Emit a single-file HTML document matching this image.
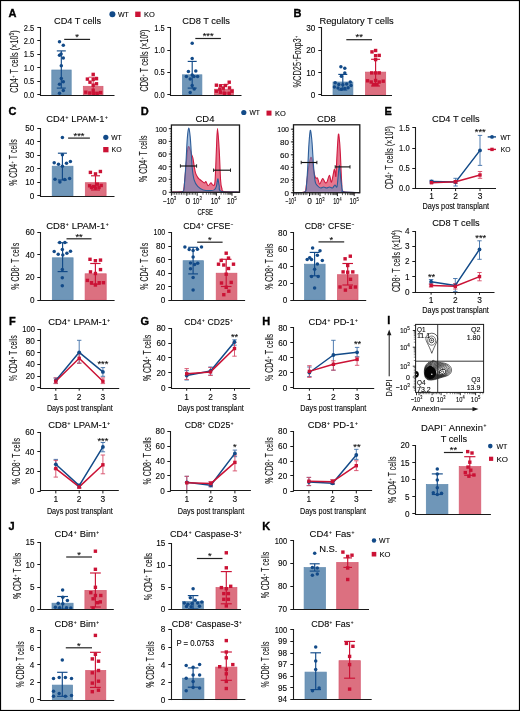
<!DOCTYPE html>
<html><head><meta charset="utf-8"><style>
html,body{margin:0;padding:0;background:#fff;}
body{width:520px;height:711px;overflow:hidden;position:relative;font-family:"Liberation Sans", sans-serif;}
svg{position:absolute;left:0;top:0;display:block;will-change:transform;}
text{stroke:#1a1a1a;stroke-width:0.12px;}
</style></head><body>
<svg width="520" height="711" viewBox="0 0 520 711" font-family='"Liberation Sans", sans-serif'><rect x="0.50" y="0.50" width="519.00" height="710.00" fill="none" stroke="#000" stroke-width="1.2" />
<text x="8.60" y="16.60" font-size="11.00" font-weight="bold" fill="#000" style="stroke:#000;stroke-width:0.35px">A</text>
<text x="77.60" y="24.40" font-size="9.90" text-anchor="middle" textLength="47.20" lengthAdjust="spacingAndGlyphs" >CD4 T cells</text>
<line x1="40.50" y1="27.00" x2="40.50" y2="95.40" stroke="#1a1a1a" stroke-width="1.1" />
<line x1="37.30" y1="27.50" x2="40.50" y2="27.50" stroke="#1a1a1a" stroke-width="1.0" />
<text x="34.30" y="30.81" font-size="8.20" text-anchor="end" textLength="10.50" lengthAdjust="spacingAndGlyphs" >2.5</text>
<line x1="37.30" y1="40.50" x2="40.50" y2="40.50" stroke="#1a1a1a" stroke-width="1.0" />
<text x="34.30" y="43.71" font-size="8.20" text-anchor="end" textLength="10.50" lengthAdjust="spacingAndGlyphs" >2.0</text>
<line x1="37.30" y1="54.50" x2="40.50" y2="54.50" stroke="#1a1a1a" stroke-width="1.0" />
<text x="34.30" y="56.91" font-size="8.20" text-anchor="end" textLength="10.50" lengthAdjust="spacingAndGlyphs" >1.5</text>
<line x1="37.30" y1="67.50" x2="40.50" y2="67.50" stroke="#1a1a1a" stroke-width="1.0" />
<text x="34.30" y="70.66" font-size="8.20" text-anchor="end" textLength="10.50" lengthAdjust="spacingAndGlyphs" >1.0</text>
<line x1="37.30" y1="81.50" x2="40.50" y2="81.50" stroke="#1a1a1a" stroke-width="1.0" />
<text x="34.30" y="84.11" font-size="8.20" text-anchor="end" textLength="10.50" lengthAdjust="spacingAndGlyphs" >0.5</text>
<line x1="37.30" y1="94.50" x2="40.50" y2="94.50" stroke="#1a1a1a" stroke-width="1.0" />
<text x="34.30" y="97.81" font-size="8.20" text-anchor="end" textLength="10.50" lengthAdjust="spacingAndGlyphs" >0.0</text>
<rect x="51.80" y="70.00" width="19.40" height="25.00" fill="#6f96b8" stroke="#5f8ab0" stroke-width="0.7" />
<rect x="83.30" y="86.30" width="19.70" height="8.70" fill="#dc7080" stroke="#d65a70" stroke-width="0.7" />
<line x1="61.30" y1="50.90" x2="61.30" y2="88.10" stroke="#124a88" stroke-width="1.15" />
<line x1="56.80" y1="50.90" x2="65.80" y2="50.90" stroke="#124a88" stroke-width="1.15" />
<line x1="56.80" y1="88.10" x2="65.80" y2="88.10" stroke="#124a88" stroke-width="1.15" />
<line x1="93.20" y1="77.20" x2="93.20" y2="93.00" stroke="#cb1235" stroke-width="0.8" />
<line x1="88.70" y1="77.20" x2="97.70" y2="77.20" stroke="#cb1235" stroke-width="0.8" />
<line x1="88.70" y1="93.00" x2="97.70" y2="93.00" stroke="#cb1235" stroke-width="0.8" />
<circle cx="59.50" cy="41.80" r="1.75" fill="#124a88"/>
<circle cx="63.30" cy="45.20" r="1.75" fill="#124a88"/>
<circle cx="59.50" cy="55.30" r="1.75" fill="#124a88"/>
<circle cx="61.10" cy="54.00" r="1.75" fill="#124a88"/>
<circle cx="63.30" cy="57.90" r="1.75" fill="#124a88"/>
<circle cx="61.30" cy="65.70" r="1.75" fill="#124a88"/>
<circle cx="61.30" cy="78.50" r="1.75" fill="#124a88"/>
<circle cx="63.30" cy="81.80" r="1.75" fill="#124a88"/>
<circle cx="59.50" cy="84.20" r="1.75" fill="#124a88"/>
<circle cx="63.30" cy="90.60" r="1.75" fill="#124a88"/>
<circle cx="59.50" cy="93.30" r="1.75" fill="#124a88"/>
<rect x="91.50" y="72.70" width="3.40" height="3.40" fill="#cb1235" stroke="none" stroke-width="0.8" />
<rect x="85.70" y="77.40" width="3.40" height="3.40" fill="#cb1235" stroke="none" stroke-width="0.8" />
<rect x="94.80" y="77.00" width="3.40" height="3.40" fill="#cb1235" stroke="none" stroke-width="0.8" />
<rect x="91.50" y="77.80" width="3.40" height="3.40" fill="#cb1235" stroke="none" stroke-width="0.8" />
<rect x="88.30" y="80.50" width="3.40" height="3.40" fill="#cb1235" stroke="none" stroke-width="0.8" />
<rect x="94.80" y="82.10" width="3.40" height="3.40" fill="#cb1235" stroke="none" stroke-width="0.8" />
<rect x="91.50" y="83.50" width="3.40" height="3.40" fill="#cb1235" stroke="none" stroke-width="0.8" />
<rect x="91.50" y="88.50" width="3.40" height="3.40" fill="#cb1235" stroke="none" stroke-width="0.8" />
<rect x="84.10" y="90.50" width="3.40" height="3.40" fill="#cb1235" stroke="none" stroke-width="0.8" />
<rect x="88.10" y="91.30" width="3.40" height="3.40" fill="#cb1235" stroke="none" stroke-width="0.8" />
<rect x="92.10" y="91.60" width="3.40" height="3.40" fill="#cb1235" stroke="none" stroke-width="0.8" />
<rect x="98.90" y="90.90" width="3.40" height="3.40" fill="#cb1235" stroke="none" stroke-width="0.8" />
<rect x="95.50" y="91.60" width="3.40" height="3.40" fill="#cb1235" stroke="none" stroke-width="0.8" />
<line x1="64.20" y1="39.40" x2="90.10" y2="39.40" stroke="#222" stroke-width="1.2" />
<text x="77.15" y="40.10" font-size="9.30" text-anchor="middle" >*</text>
<text x="17.65" y="61.60" font-size="10.00" text-anchor="middle" textLength="62.50" lengthAdjust="spacingAndGlyphs" transform="rotate(-90 17.65 61.60)" fill="#1a1a1a">CD4<tspan dx="0.50" dy="-3.10" font-size="5.20">+</tspan><tspan dx="0.50" dy="3.10"> T cells (×10<tspan dx="0.00" dy="-3.80" font-size="6.80">5</tspan><tspan dx="0.00" dy="3.80">)</tspan></tspan></text>
<circle cx="112.40" cy="14.25" r="3.00" fill="#124a88"/>
<text x="117.90" y="17.02" font-size="7.70" textLength="10.90" lengthAdjust="spacingAndGlyphs" >WT</text>
<rect x="135.20" y="11.60" width="5.40" height="5.40" fill="#cb1235" stroke="none" stroke-width="0.8" />
<text x="143.90" y="17.07" font-size="7.70" textLength="10.80" lengthAdjust="spacingAndGlyphs" >KO</text>
<text x="206.10" y="23.90" font-size="9.90" text-anchor="middle" textLength="47.80" lengthAdjust="spacingAndGlyphs" >CD8 T cells</text>
<line x1="170.50" y1="27.00" x2="170.50" y2="95.10" stroke="#1a1a1a" stroke-width="1.1" />
<line x1="167.30" y1="27.50" x2="170.50" y2="27.50" stroke="#1a1a1a" stroke-width="1.0" />
<text x="164.70" y="30.81" font-size="8.20" text-anchor="end" textLength="10.50" lengthAdjust="spacingAndGlyphs" >1.5</text>
<line x1="167.30" y1="50.50" x2="170.50" y2="50.50" stroke="#1a1a1a" stroke-width="1.0" />
<text x="164.70" y="53.01" font-size="8.20" text-anchor="end" textLength="10.50" lengthAdjust="spacingAndGlyphs" >1.0</text>
<line x1="167.30" y1="72.50" x2="170.50" y2="72.50" stroke="#1a1a1a" stroke-width="1.0" />
<text x="164.70" y="75.21" font-size="8.20" text-anchor="end" textLength="10.50" lengthAdjust="spacingAndGlyphs" >0.5</text>
<line x1="167.30" y1="94.50" x2="170.50" y2="94.50" stroke="#1a1a1a" stroke-width="1.0" />
<text x="164.70" y="97.51" font-size="8.20" text-anchor="end" textLength="10.50" lengthAdjust="spacingAndGlyphs" >0.0</text>
<rect x="182.40" y="74.80" width="19.50" height="20.20" fill="#6f96b8" stroke="#5f8ab0" stroke-width="0.7" />
<rect x="214.40" y="89.20" width="19.10" height="5.80" fill="#dc7080" stroke="#d65a70" stroke-width="0.7" />
<line x1="192.20" y1="61.40" x2="192.20" y2="88.10" stroke="#124a88" stroke-width="1.15" />
<line x1="187.70" y1="61.40" x2="196.70" y2="61.40" stroke="#124a88" stroke-width="1.15" />
<line x1="187.70" y1="88.10" x2="196.70" y2="88.10" stroke="#124a88" stroke-width="1.15" />
<line x1="224.00" y1="84.50" x2="224.00" y2="93.00" stroke="#cb1235" stroke-width="0.8" />
<line x1="219.50" y1="84.50" x2="228.50" y2="84.50" stroke="#cb1235" stroke-width="0.8" />
<line x1="219.50" y1="93.00" x2="228.50" y2="93.00" stroke="#cb1235" stroke-width="0.8" />
<circle cx="192.20" cy="43.20" r="1.75" fill="#124a88"/>
<circle cx="192.20" cy="58.50" r="1.75" fill="#124a88"/>
<circle cx="188.40" cy="71.50" r="1.75" fill="#124a88"/>
<circle cx="195.80" cy="71.00" r="1.75" fill="#124a88"/>
<circle cx="186.40" cy="76.40" r="1.75" fill="#124a88"/>
<circle cx="192.20" cy="75.10" r="1.75" fill="#124a88"/>
<circle cx="194.00" cy="76.40" r="1.75" fill="#124a88"/>
<circle cx="197.60" cy="76.40" r="1.75" fill="#124a88"/>
<circle cx="190.20" cy="79.10" r="1.75" fill="#124a88"/>
<circle cx="192.20" cy="85.50" r="1.75" fill="#124a88"/>
<circle cx="194.20" cy="89.00" r="1.75" fill="#124a88"/>
<circle cx="190.20" cy="92.60" r="1.75" fill="#124a88"/>
<rect x="227.50" y="80.50" width="3.40" height="3.40" fill="#cb1235" stroke="none" stroke-width="0.8" />
<rect x="214.70" y="83.50" width="3.40" height="3.40" fill="#cb1235" stroke="none" stroke-width="0.8" />
<rect x="218.80" y="84.20" width="3.40" height="3.40" fill="#cb1235" stroke="none" stroke-width="0.8" />
<rect x="223.80" y="83.80" width="3.40" height="3.40" fill="#cb1235" stroke="none" stroke-width="0.8" />
<rect x="221.50" y="86.40" width="3.40" height="3.40" fill="#cb1235" stroke="none" stroke-width="0.8" />
<rect x="227.80" y="86.20" width="3.40" height="3.40" fill="#cb1235" stroke="none" stroke-width="0.8" />
<rect x="214.70" y="89.50" width="3.40" height="3.40" fill="#cb1235" stroke="none" stroke-width="0.8" />
<rect x="218.80" y="90.50" width="3.40" height="3.40" fill="#cb1235" stroke="none" stroke-width="0.8" />
<rect x="222.80" y="91.60" width="3.40" height="3.40" fill="#cb1235" stroke="none" stroke-width="0.8" />
<rect x="227.50" y="91.60" width="3.40" height="3.40" fill="#cb1235" stroke="none" stroke-width="0.8" />
<rect x="230.20" y="89.50" width="3.40" height="3.40" fill="#cb1235" stroke="none" stroke-width="0.8" />
<rect x="218.10" y="87.50" width="3.40" height="3.40" fill="#cb1235" stroke="none" stroke-width="0.8" />
<line x1="195.30" y1="38.50" x2="220.90" y2="38.50" stroke="#222" stroke-width="1.2" />
<text x="208.10" y="39.20" font-size="9.30" text-anchor="middle" >***</text>
<text x="148.35" y="60.50" font-size="10.00" text-anchor="middle" textLength="61.80" lengthAdjust="spacingAndGlyphs" transform="rotate(-90 148.35 60.50)" fill="#1a1a1a">CD8<tspan dx="0.50" dy="-3.10" font-size="5.20">+</tspan><tspan dx="0.50" dy="3.10"> T cells (×10<tspan dx="0.00" dy="-3.80" font-size="6.80">5</tspan><tspan dx="0.00" dy="3.80">)</tspan></tspan></text>
<text x="293.60" y="17.00" font-size="11.00" font-weight="bold" fill="#000" style="stroke:#000;stroke-width:0.35px">B</text>
<text x="356.60" y="23.90" font-size="9.90" text-anchor="middle" textLength="74.30" lengthAdjust="spacingAndGlyphs" >Regulatory T cells</text>
<line x1="321.50" y1="27.00" x2="321.50" y2="95.30" stroke="#1a1a1a" stroke-width="1.1" />
<line x1="318.30" y1="27.50" x2="321.50" y2="27.50" stroke="#1a1a1a" stroke-width="1.0" />
<text x="315.30" y="30.81" font-size="8.20" text-anchor="end" >30</text>
<line x1="318.30" y1="50.50" x2="321.50" y2="50.50" stroke="#1a1a1a" stroke-width="1.0" />
<text x="315.30" y="53.31" font-size="8.20" text-anchor="end" >20</text>
<line x1="318.30" y1="72.50" x2="321.50" y2="72.50" stroke="#1a1a1a" stroke-width="1.0" />
<text x="315.30" y="75.51" font-size="8.20" text-anchor="end" >10</text>
<line x1="318.30" y1="94.50" x2="321.50" y2="94.50" stroke="#1a1a1a" stroke-width="1.0" />
<text x="315.30" y="97.71" font-size="8.20" text-anchor="end" >0</text>
<rect x="333.00" y="82.00" width="19.90" height="13.00" fill="#6f96b8" stroke="#5f8ab0" stroke-width="0.7" />
<rect x="365.50" y="72.10" width="20.20" height="22.90" fill="#dc7080" stroke="#d65a70" stroke-width="0.7" />
<line x1="342.80" y1="74.40" x2="342.80" y2="90.00" stroke="#124a88" stroke-width="1.15" />
<line x1="338.30" y1="74.40" x2="347.30" y2="74.40" stroke="#124a88" stroke-width="1.15" />
<line x1="338.30" y1="90.00" x2="347.30" y2="90.00" stroke="#124a88" stroke-width="1.15" />
<line x1="375.60" y1="59.30" x2="375.60" y2="86.00" stroke="#cb1235" stroke-width="1.15" />
<line x1="371.10" y1="59.30" x2="380.10" y2="59.30" stroke="#cb1235" stroke-width="1.15" />
<line x1="371.10" y1="86.00" x2="380.10" y2="86.00" stroke="#cb1235" stroke-width="1.15" />
<circle cx="340.90" cy="66.80" r="1.75" fill="#124a88"/>
<circle cx="344.80" cy="68.20" r="1.75" fill="#124a88"/>
<circle cx="344.80" cy="72.90" r="1.75" fill="#124a88"/>
<circle cx="341.40" cy="76.20" r="1.75" fill="#124a88"/>
<circle cx="335.20" cy="82.70" r="1.75" fill="#124a88"/>
<circle cx="350.30" cy="81.90" r="1.75" fill="#124a88"/>
<circle cx="338.80" cy="84.50" r="1.75" fill="#124a88"/>
<circle cx="342.80" cy="84.80" r="1.75" fill="#124a88"/>
<circle cx="346.70" cy="84.10" r="1.75" fill="#124a88"/>
<circle cx="351.00" cy="85.60" r="1.75" fill="#124a88"/>
<circle cx="334.40" cy="87.00" r="1.75" fill="#124a88"/>
<circle cx="338.00" cy="88.00" r="1.75" fill="#124a88"/>
<circle cx="341.40" cy="89.20" r="1.75" fill="#124a88"/>
<circle cx="344.80" cy="88.40" r="1.75" fill="#124a88"/>
<circle cx="348.10" cy="87.70" r="1.75" fill="#124a88"/>
<rect x="370.30" y="50.20" width="3.40" height="3.40" fill="#cb1235" stroke="none" stroke-width="0.8" />
<rect x="373.90" y="48.80" width="3.40" height="3.40" fill="#cb1235" stroke="none" stroke-width="0.8" />
<rect x="373.90" y="54.00" width="3.40" height="3.40" fill="#cb1235" stroke="none" stroke-width="0.8" />
<rect x="377.50" y="53.70" width="3.40" height="3.40" fill="#cb1235" stroke="none" stroke-width="0.8" />
<rect x="373.90" y="57.90" width="3.40" height="3.40" fill="#cb1235" stroke="none" stroke-width="0.8" />
<rect x="370.00" y="71.20" width="3.40" height="3.40" fill="#cb1235" stroke="none" stroke-width="0.8" />
<rect x="373.90" y="71.20" width="3.40" height="3.40" fill="#cb1235" stroke="none" stroke-width="0.8" />
<rect x="377.50" y="71.20" width="3.40" height="3.40" fill="#cb1235" stroke="none" stroke-width="0.8" />
<rect x="365.90" y="79.10" width="3.40" height="3.40" fill="#cb1235" stroke="none" stroke-width="0.8" />
<rect x="369.50" y="80.30" width="3.40" height="3.40" fill="#cb1235" stroke="none" stroke-width="0.8" />
<rect x="373.90" y="78.80" width="3.40" height="3.40" fill="#cb1235" stroke="none" stroke-width="0.8" />
<rect x="377.50" y="80.30" width="3.40" height="3.40" fill="#cb1235" stroke="none" stroke-width="0.8" />
<rect x="381.50" y="79.50" width="3.40" height="3.40" fill="#cb1235" stroke="none" stroke-width="0.8" />
<rect x="371.70" y="82.80" width="3.40" height="3.40" fill="#cb1235" stroke="none" stroke-width="0.8" />
<rect x="375.30" y="82.80" width="3.40" height="3.40" fill="#cb1235" stroke="none" stroke-width="0.8" />
<line x1="346.30" y1="39.70" x2="372.00" y2="39.70" stroke="#222" stroke-width="1.2" />
<text x="359.15" y="40.40" font-size="9.30" text-anchor="middle" >**</text>
<text x="300.75" y="61.60" font-size="10.00" text-anchor="middle" textLength="51.80" lengthAdjust="spacingAndGlyphs" transform="rotate(-90 300.75 61.60)" fill="#1a1a1a">%CD25<tspan dx="0.50" dy="-3.10" font-size="5.20">+</tspan><tspan dx="0.50" dy="3.10">Foxp3<tspan dx="0.50" dy="-3.10" font-size="5.20">+</tspan><tspan dx="0.50" dy="3.10"></tspan></tspan></text>
<text x="8.60" y="114.60" font-size="11.00" font-weight="bold" fill="#000" style="stroke:#000;stroke-width:0.35px">C</text>
<text x="77.00" y="121.70" font-size="9.90" text-anchor="middle" textLength="61.50" lengthAdjust="spacingAndGlyphs" >CD4<tspan dx="0.50" dy="-3.07" font-size="5.15">+</tspan><tspan dx="0.50" dy="3.07"> LPAM-1<tspan dx="0.50" dy="-3.07" font-size="5.15">+</tspan><tspan dx="0.50" dy="3.07"></tspan></tspan></text>
<line x1="40.50" y1="128.00" x2="40.50" y2="196.40" stroke="#1a1a1a" stroke-width="1.1" />
<line x1="37.30" y1="128.50" x2="40.50" y2="128.50" stroke="#1a1a1a" stroke-width="1.0" />
<text x="34.40" y="131.01" font-size="8.20" text-anchor="end" >50</text>
<line x1="37.30" y1="141.50" x2="40.50" y2="141.50" stroke="#1a1a1a" stroke-width="1.0" />
<text x="34.40" y="144.51" font-size="8.20" text-anchor="end" >40</text>
<line x1="37.30" y1="155.50" x2="40.50" y2="155.50" stroke="#1a1a1a" stroke-width="1.0" />
<text x="34.40" y="158.11" font-size="8.20" text-anchor="end" >30</text>
<line x1="37.30" y1="168.50" x2="40.50" y2="168.50" stroke="#1a1a1a" stroke-width="1.0" />
<text x="34.40" y="171.81" font-size="8.20" text-anchor="end" >20</text>
<line x1="37.30" y1="182.50" x2="40.50" y2="182.50" stroke="#1a1a1a" stroke-width="1.0" />
<text x="34.40" y="185.11" font-size="8.20" text-anchor="end" >10</text>
<line x1="37.30" y1="195.50" x2="40.50" y2="195.50" stroke="#1a1a1a" stroke-width="1.0" />
<text x="34.40" y="198.81" font-size="8.20" text-anchor="end" >0</text>
<rect x="52.20" y="166.20" width="20.80" height="29.80" fill="#6f96b8" stroke="#5f8ab0" stroke-width="0.7" />
<rect x="85.30" y="182.70" width="20.80" height="13.30" fill="#dc7080" stroke="#d65a70" stroke-width="0.7" />
<line x1="62.40" y1="153.20" x2="62.40" y2="180.00" stroke="#124a88" stroke-width="1.15" />
<line x1="57.90" y1="153.20" x2="66.90" y2="153.20" stroke="#124a88" stroke-width="1.15" />
<line x1="57.90" y1="180.00" x2="66.90" y2="180.00" stroke="#124a88" stroke-width="1.15" />
<line x1="95.50" y1="175.80" x2="95.50" y2="190.00" stroke="#cb1235" stroke-width="1.15" />
<line x1="91.00" y1="175.80" x2="100.00" y2="175.80" stroke="#cb1235" stroke-width="1.15" />
<line x1="91.00" y1="190.00" x2="100.00" y2="190.00" stroke="#cb1235" stroke-width="1.15" />
<circle cx="62.40" cy="137.60" r="1.75" fill="#124a88"/>
<circle cx="62.40" cy="154.70" r="1.75" fill="#124a88"/>
<circle cx="54.20" cy="162.70" r="1.75" fill="#124a88"/>
<circle cx="58.50" cy="164.20" r="1.75" fill="#124a88"/>
<circle cx="66.50" cy="163.20" r="1.75" fill="#124a88"/>
<circle cx="70.40" cy="161.60" r="1.75" fill="#124a88"/>
<circle cx="62.40" cy="166.20" r="1.75" fill="#124a88"/>
<circle cx="55.00" cy="179.20" r="1.75" fill="#124a88"/>
<circle cx="59.90" cy="181.90" r="1.75" fill="#124a88"/>
<circle cx="64.70" cy="179.60" r="1.75" fill="#124a88"/>
<circle cx="69.60" cy="178.50" r="1.75" fill="#124a88"/>
<rect x="88.70" y="170.70" width="3.40" height="3.40" fill="#cb1235" stroke="none" stroke-width="0.8" />
<rect x="93.80" y="172.20" width="3.40" height="3.40" fill="#cb1235" stroke="none" stroke-width="0.8" />
<rect x="98.70" y="169.80" width="3.40" height="3.40" fill="#cb1235" stroke="none" stroke-width="0.8" />
<rect x="87.90" y="184.10" width="3.40" height="3.40" fill="#cb1235" stroke="none" stroke-width="0.8" />
<rect x="91.80" y="184.80" width="3.40" height="3.40" fill="#cb1235" stroke="none" stroke-width="0.8" />
<rect x="95.60" y="182.50" width="3.40" height="3.40" fill="#cb1235" stroke="none" stroke-width="0.8" />
<rect x="99.50" y="183.80" width="3.40" height="3.40" fill="#cb1235" stroke="none" stroke-width="0.8" />
<rect x="89.80" y="185.80" width="3.40" height="3.40" fill="#cb1235" stroke="none" stroke-width="0.8" />
<rect x="97.30" y="185.80" width="3.40" height="3.40" fill="#cb1235" stroke="none" stroke-width="0.8" />
<rect x="93.80" y="186.30" width="3.40" height="3.40" fill="#cb1235" stroke="none" stroke-width="0.8" />
<line x1="68.10" y1="138.10" x2="89.90" y2="138.10" stroke="#222" stroke-width="1.2" />
<text x="79.00" y="138.80" font-size="9.30" text-anchor="middle" >***</text>
<text x="16.85" y="162.50" font-size="10.00" text-anchor="middle" textLength="46.70" lengthAdjust="spacingAndGlyphs" transform="rotate(-90 16.85 162.50)" fill="#1a1a1a">% CD4<tspan dx="0.50" dy="-3.10" font-size="5.20">+</tspan><tspan dx="0.50" dy="3.10"> T cells</tspan></text>
<circle cx="105.80" cy="137.30" r="2.60" fill="#124a88"/>
<text x="111.20" y="140.07" font-size="7.70" textLength="10.40" lengthAdjust="spacingAndGlyphs" >WT</text>
<rect x="103.20" y="147.00" width="5.30" height="5.30" fill="#cb1235" stroke="none" stroke-width="0.8" />
<text x="111.50" y="152.42" font-size="7.70" textLength="10.10" lengthAdjust="spacingAndGlyphs" >KO</text>
<text x="77.40" y="229.20" font-size="9.90" text-anchor="middle" textLength="62.30" lengthAdjust="spacingAndGlyphs" >CD8<tspan dx="0.50" dy="-3.07" font-size="5.15">+</tspan><tspan dx="0.50" dy="3.07"> LPAM-1<tspan dx="0.50" dy="-3.07" font-size="5.15">+</tspan><tspan dx="0.50" dy="3.07"></tspan></tspan></text>
<line x1="40.50" y1="232.00" x2="40.50" y2="300.60" stroke="#1a1a1a" stroke-width="1.1" />
<line x1="37.30" y1="232.50" x2="40.50" y2="232.50" stroke="#1a1a1a" stroke-width="1.0" />
<text x="34.60" y="235.01" font-size="8.20" text-anchor="end" >60</text>
<line x1="37.30" y1="254.50" x2="40.50" y2="254.50" stroke="#1a1a1a" stroke-width="1.0" />
<text x="34.60" y="257.81" font-size="8.20" text-anchor="end" >40</text>
<line x1="37.30" y1="277.50" x2="40.50" y2="277.50" stroke="#1a1a1a" stroke-width="1.0" />
<text x="34.60" y="280.31" font-size="8.20" text-anchor="end" >20</text>
<line x1="37.30" y1="300.50" x2="40.50" y2="300.50" stroke="#1a1a1a" stroke-width="1.0" />
<text x="34.60" y="303.01" font-size="8.20" text-anchor="end" >0</text>
<rect x="52.30" y="257.80" width="20.80" height="42.20" fill="#6f96b8" stroke="#5f8ab0" stroke-width="0.7" />
<rect x="85.10" y="273.80" width="21.10" height="26.20" fill="#dc7080" stroke="#d65a70" stroke-width="0.7" />
<line x1="62.60" y1="242.70" x2="62.60" y2="271.60" stroke="#124a88" stroke-width="1.15" />
<line x1="57.60" y1="242.70" x2="67.60" y2="242.70" stroke="#124a88" stroke-width="1.15" />
<line x1="57.60" y1="271.60" x2="67.60" y2="271.60" stroke="#124a88" stroke-width="1.15" />
<line x1="95.40" y1="263.50" x2="95.40" y2="284.20" stroke="#cb1235" stroke-width="1.15" />
<line x1="90.20" y1="263.50" x2="100.60" y2="263.50" stroke="#cb1235" stroke-width="1.15" />
<line x1="90.20" y1="284.20" x2="100.60" y2="284.20" stroke="#cb1235" stroke-width="1.15" />
<circle cx="59.70" cy="242.40" r="1.75" fill="#124a88"/>
<circle cx="64.90" cy="242.40" r="1.75" fill="#124a88"/>
<circle cx="62.30" cy="249.60" r="1.75" fill="#124a88"/>
<circle cx="54.20" cy="251.60" r="1.75" fill="#124a88"/>
<circle cx="58.20" cy="254.20" r="1.75" fill="#124a88"/>
<circle cx="62.80" cy="255.00" r="1.75" fill="#124a88"/>
<circle cx="66.90" cy="253.20" r="1.75" fill="#124a88"/>
<circle cx="70.50" cy="251.20" r="1.75" fill="#124a88"/>
<circle cx="62.30" cy="269.60" r="1.75" fill="#124a88"/>
<circle cx="62.30" cy="277.80" r="1.75" fill="#124a88"/>
<circle cx="62.30" cy="285.80" r="1.75" fill="#124a88"/>
<rect x="88.30" y="257.60" width="3.40" height="3.40" fill="#cb1235" stroke="none" stroke-width="0.8" />
<rect x="93.70" y="259.00" width="3.40" height="3.40" fill="#cb1235" stroke="none" stroke-width="0.8" />
<rect x="98.80" y="258.40" width="3.40" height="3.40" fill="#cb1235" stroke="none" stroke-width="0.8" />
<rect x="98.80" y="267.90" width="3.40" height="3.40" fill="#cb1235" stroke="none" stroke-width="0.8" />
<rect x="88.80" y="270.20" width="3.40" height="3.40" fill="#cb1235" stroke="none" stroke-width="0.8" />
<rect x="93.70" y="271.80" width="3.40" height="3.40" fill="#cb1235" stroke="none" stroke-width="0.8" />
<rect x="85.70" y="278.70" width="3.40" height="3.40" fill="#cb1235" stroke="none" stroke-width="0.8" />
<rect x="89.80" y="281.00" width="3.40" height="3.40" fill="#cb1235" stroke="none" stroke-width="0.8" />
<rect x="93.70" y="283.30" width="3.40" height="3.40" fill="#cb1235" stroke="none" stroke-width="0.8" />
<rect x="97.50" y="281.00" width="3.40" height="3.40" fill="#cb1235" stroke="none" stroke-width="0.8" />
<rect x="101.70" y="281.00" width="3.40" height="3.40" fill="#cb1235" stroke="none" stroke-width="0.8" />
<line x1="66.50" y1="238.80" x2="91.50" y2="238.80" stroke="#222" stroke-width="1.2" />
<text x="79.00" y="239.50" font-size="9.30" text-anchor="middle" >**</text>
<text x="19.15" y="266.30" font-size="10.00" text-anchor="middle" textLength="46.90" lengthAdjust="spacingAndGlyphs" transform="rotate(-90 19.15 266.30)" fill="#1a1a1a">% CD8<tspan dx="0.50" dy="-3.10" font-size="5.20">+</tspan><tspan dx="0.50" dy="3.10"> T cells</tspan></text>
<text x="140.80" y="114.90" font-size="11.00" font-weight="bold" fill="#000" style="stroke:#000;stroke-width:0.35px">D</text>
<path d="M171.40,192.20 C173.25,192.10 180.42,192.22 182.50,191.60 C184.58,190.98 183.33,192.48 183.90,188.50 C184.47,184.52 185.22,174.52 185.90,167.70 C186.58,160.88 187.30,150.60 188.00,147.60 C188.70,144.60 189.52,148.55 190.10,149.70 C190.68,150.85 191.03,153.12 191.50,154.50 C191.97,155.88 192.45,156.03 192.90,158.00 C193.35,159.97 193.75,163.77 194.20,166.30 C194.65,168.83 195.02,171.35 195.60,173.20 C196.18,175.05 197.00,176.35 197.70,177.40 C198.40,178.45 199.00,178.80 199.80,179.50 C200.60,180.20 201.70,181.03 202.50,181.60 C203.30,182.17 204.02,182.90 204.60,182.90 C205.18,182.90 205.42,181.13 206.00,181.60 C206.58,182.07 207.28,185.48 208.10,185.70 C208.92,185.92 210.10,183.02 210.90,182.90 C211.70,182.78 212.22,185.22 212.90,185.00 C213.58,184.78 214.42,187.48 215.00,181.60 C215.58,175.72 215.98,158.53 216.40,149.70 C216.82,140.87 217.03,128.60 217.50,128.60 C217.97,128.60 218.68,141.10 219.20,149.70 C219.72,158.30 220.15,173.73 220.60,180.20 C221.05,186.67 221.33,186.60 221.90,188.50 C222.47,190.40 221.07,190.98 224.00,191.60 C226.93,192.22 236.92,192.10 239.50,192.20 L239.50,192.30 L171.40,192.30 Z" fill="rgba(213,20,60,0.58)" stroke="none" stroke-width="1.0" />
<path d="M171.40,192.20 C173.25,192.10 180.42,192.22 182.50,191.60 C184.58,190.98 183.33,192.48 183.90,188.50 C184.47,184.52 185.22,174.52 185.90,167.70 C186.58,160.88 187.30,150.60 188.00,147.60 C188.70,144.60 189.52,148.55 190.10,149.70 C190.68,150.85 191.03,153.12 191.50,154.50 C191.97,155.88 192.45,156.03 192.90,158.00 C193.35,159.97 193.75,163.77 194.20,166.30 C194.65,168.83 195.02,171.35 195.60,173.20 C196.18,175.05 197.00,176.35 197.70,177.40 C198.40,178.45 199.00,178.80 199.80,179.50 C200.60,180.20 201.70,181.03 202.50,181.60 C203.30,182.17 204.02,182.90 204.60,182.90 C205.18,182.90 205.42,181.13 206.00,181.60 C206.58,182.07 207.28,185.48 208.10,185.70 C208.92,185.92 210.10,183.02 210.90,182.90 C211.70,182.78 212.22,185.22 212.90,185.00 C213.58,184.78 214.42,187.48 215.00,181.60 C215.58,175.72 215.98,158.53 216.40,149.70 C216.82,140.87 217.03,128.60 217.50,128.60 C217.97,128.60 218.68,141.10 219.20,149.70 C219.72,158.30 220.15,173.73 220.60,180.20 C221.05,186.67 221.33,186.60 221.90,188.50 C222.47,190.40 221.07,190.98 224.00,191.60 C226.93,192.22 236.92,192.10 239.50,192.20" fill="none" stroke="#cf1a40" stroke-width="1.1" />
<path d="M171.40,192.20 C173.30,192.10 180.62,193.13 182.80,191.60 C184.98,190.07 183.98,187.67 184.50,183.00 C185.02,178.33 185.43,171.00 185.90,163.60 C186.37,156.20 186.83,144.50 187.30,138.60 C187.77,132.70 188.23,128.65 188.70,128.20 C189.17,127.75 189.70,132.32 190.10,135.90 C190.50,139.48 190.75,144.40 191.10,149.70 C191.45,155.00 191.68,162.62 192.20,167.70 C192.72,172.78 193.28,177.08 194.20,180.20 C195.12,183.32 196.20,184.78 197.70,186.40 C199.20,188.02 201.12,189.20 203.20,189.90 C205.28,190.60 208.35,190.60 210.20,190.60 C212.05,190.60 213.27,190.60 214.30,189.90 C215.33,189.20 215.82,188.25 216.40,186.40 C216.98,184.55 217.33,178.92 217.80,178.80 C218.27,178.68 218.63,183.60 219.20,185.70 C219.77,187.80 217.82,190.32 221.20,191.40 C224.58,192.48 236.45,192.07 239.50,192.20 L239.50,192.30 L171.40,192.30 Z" fill="rgba(98,142,195,0.58)" stroke="none" stroke-width="1.0" />
<path d="M171.40,192.20 C173.30,192.10 180.62,193.13 182.80,191.60 C184.98,190.07 183.98,187.67 184.50,183.00 C185.02,178.33 185.43,171.00 185.90,163.60 C186.37,156.20 186.83,144.50 187.30,138.60 C187.77,132.70 188.23,128.65 188.70,128.20 C189.17,127.75 189.70,132.32 190.10,135.90 C190.50,139.48 190.75,144.40 191.10,149.70 C191.45,155.00 191.68,162.62 192.20,167.70 C192.72,172.78 193.28,177.08 194.20,180.20 C195.12,183.32 196.20,184.78 197.70,186.40 C199.20,188.02 201.12,189.20 203.20,189.90 C205.28,190.60 208.35,190.60 210.20,190.60 C212.05,190.60 213.27,190.60 214.30,189.90 C215.33,189.20 215.82,188.25 216.40,186.40 C216.98,184.55 217.33,178.92 217.80,178.80 C218.27,178.68 218.63,183.60 219.20,185.70 C219.77,187.80 217.82,190.32 221.20,191.40 C224.58,192.48 236.45,192.07 239.50,192.20" fill="none" stroke="#2d5d98" stroke-width="1.1" />
<rect x="171.40" y="125.00" width="68.10" height="67.30" fill="none" stroke="#1a1a1a" stroke-width="1.3" />
<line x1="169.90" y1="192.30" x2="171.40" y2="192.30" stroke="#1a1a1a" stroke-width="0.6" />
<line x1="169.90" y1="189.76" x2="171.40" y2="189.76" stroke="#1a1a1a" stroke-width="0.6" />
<line x1="169.90" y1="187.21" x2="171.40" y2="187.21" stroke="#1a1a1a" stroke-width="0.6" />
<line x1="169.90" y1="184.67" x2="171.40" y2="184.67" stroke="#1a1a1a" stroke-width="0.6" />
<line x1="169.90" y1="182.12" x2="171.40" y2="182.12" stroke="#1a1a1a" stroke-width="0.6" />
<line x1="169.90" y1="179.58" x2="171.40" y2="179.58" stroke="#1a1a1a" stroke-width="0.6" />
<line x1="169.90" y1="177.04" x2="171.40" y2="177.04" stroke="#1a1a1a" stroke-width="0.6" />
<line x1="169.90" y1="174.49" x2="171.40" y2="174.49" stroke="#1a1a1a" stroke-width="0.6" />
<line x1="169.90" y1="171.95" x2="171.40" y2="171.95" stroke="#1a1a1a" stroke-width="0.6" />
<line x1="169.90" y1="169.40" x2="171.40" y2="169.40" stroke="#1a1a1a" stroke-width="0.6" />
<line x1="169.90" y1="166.86" x2="171.40" y2="166.86" stroke="#1a1a1a" stroke-width="0.6" />
<line x1="169.90" y1="164.32" x2="171.40" y2="164.32" stroke="#1a1a1a" stroke-width="0.6" />
<line x1="169.90" y1="161.77" x2="171.40" y2="161.77" stroke="#1a1a1a" stroke-width="0.6" />
<line x1="169.90" y1="159.23" x2="171.40" y2="159.23" stroke="#1a1a1a" stroke-width="0.6" />
<line x1="169.90" y1="156.68" x2="171.40" y2="156.68" stroke="#1a1a1a" stroke-width="0.6" />
<line x1="169.90" y1="154.14" x2="171.40" y2="154.14" stroke="#1a1a1a" stroke-width="0.6" />
<line x1="169.90" y1="151.60" x2="171.40" y2="151.60" stroke="#1a1a1a" stroke-width="0.6" />
<line x1="169.90" y1="149.05" x2="171.40" y2="149.05" stroke="#1a1a1a" stroke-width="0.6" />
<line x1="169.90" y1="146.51" x2="171.40" y2="146.51" stroke="#1a1a1a" stroke-width="0.6" />
<line x1="169.90" y1="143.96" x2="171.40" y2="143.96" stroke="#1a1a1a" stroke-width="0.6" />
<line x1="169.90" y1="141.42" x2="171.40" y2="141.42" stroke="#1a1a1a" stroke-width="0.6" />
<line x1="169.90" y1="138.88" x2="171.40" y2="138.88" stroke="#1a1a1a" stroke-width="0.6" />
<line x1="169.90" y1="136.33" x2="171.40" y2="136.33" stroke="#1a1a1a" stroke-width="0.6" />
<line x1="169.90" y1="133.79" x2="171.40" y2="133.79" stroke="#1a1a1a" stroke-width="0.6" />
<line x1="169.90" y1="131.24" x2="171.40" y2="131.24" stroke="#1a1a1a" stroke-width="0.6" />
<line x1="169.90" y1="128.70" x2="171.40" y2="128.70" stroke="#1a1a1a" stroke-width="0.6" />
<line x1="168.80" y1="128.70" x2="171.40" y2="128.70" stroke="#1a1a1a" stroke-width="0.9" />
<line x1="168.80" y1="141.40" x2="171.40" y2="141.40" stroke="#1a1a1a" stroke-width="0.9" />
<line x1="168.80" y1="154.00" x2="171.40" y2="154.00" stroke="#1a1a1a" stroke-width="0.9" />
<line x1="168.80" y1="166.70" x2="171.40" y2="166.70" stroke="#1a1a1a" stroke-width="0.9" />
<line x1="168.80" y1="179.30" x2="171.40" y2="179.30" stroke="#1a1a1a" stroke-width="0.9" />
<line x1="168.80" y1="192.30" x2="171.40" y2="192.30" stroke="#1a1a1a" stroke-width="0.9" />
<text x="166.80" y="131.55" font-size="8.00" text-anchor="end" textLength="11.60" lengthAdjust="spacingAndGlyphs" >100</text>
<text x="166.80" y="144.25" font-size="8.00" text-anchor="end" >80</text>
<text x="166.80" y="156.85" font-size="8.00" text-anchor="end" >60</text>
<text x="166.80" y="169.55" font-size="8.00" text-anchor="end" >40</text>
<text x="166.80" y="182.15" font-size="8.00" text-anchor="end" >20</text>
<text x="166.80" y="195.15" font-size="8.00" text-anchor="end" >0</text>
<line x1="202.98" y1="192.30" x2="202.98" y2="194.70" stroke="#1a1a1a" stroke-width="0.7" />
<line x1="206.36" y1="192.30" x2="206.36" y2="194.70" stroke="#1a1a1a" stroke-width="0.7" />
<line x1="208.76" y1="192.30" x2="208.76" y2="194.70" stroke="#1a1a1a" stroke-width="0.7" />
<line x1="210.62" y1="192.30" x2="210.62" y2="194.70" stroke="#1a1a1a" stroke-width="0.7" />
<line x1="212.14" y1="192.30" x2="212.14" y2="194.70" stroke="#1a1a1a" stroke-width="0.7" />
<line x1="213.43" y1="192.30" x2="213.43" y2="194.70" stroke="#1a1a1a" stroke-width="0.7" />
<line x1="214.54" y1="192.30" x2="214.54" y2="194.70" stroke="#1a1a1a" stroke-width="0.7" />
<line x1="215.52" y1="192.30" x2="215.52" y2="194.70" stroke="#1a1a1a" stroke-width="0.7" />
<line x1="221.10" y1="192.30" x2="221.10" y2="194.70" stroke="#1a1a1a" stroke-width="0.7" />
<line x1="223.84" y1="192.30" x2="223.84" y2="194.70" stroke="#1a1a1a" stroke-width="0.7" />
<line x1="225.79" y1="192.30" x2="225.79" y2="194.70" stroke="#1a1a1a" stroke-width="0.7" />
<line x1="227.30" y1="192.30" x2="227.30" y2="194.70" stroke="#1a1a1a" stroke-width="0.7" />
<line x1="228.54" y1="192.30" x2="228.54" y2="194.70" stroke="#1a1a1a" stroke-width="0.7" />
<line x1="229.58" y1="192.30" x2="229.58" y2="194.70" stroke="#1a1a1a" stroke-width="0.7" />
<line x1="230.49" y1="192.30" x2="230.49" y2="194.70" stroke="#1a1a1a" stroke-width="0.7" />
<line x1="231.29" y1="192.30" x2="231.29" y2="194.70" stroke="#1a1a1a" stroke-width="0.7" />
<line x1="173.00" y1="192.30" x2="173.00" y2="194.70" stroke="#1a1a1a" stroke-width="0.7" />
<line x1="174.70" y1="192.30" x2="174.70" y2="194.70" stroke="#1a1a1a" stroke-width="0.7" />
<line x1="176.40" y1="192.30" x2="176.40" y2="194.70" stroke="#1a1a1a" stroke-width="0.7" />
<line x1="178.10" y1="192.30" x2="178.10" y2="194.70" stroke="#1a1a1a" stroke-width="0.7" />
<line x1="179.80" y1="192.30" x2="179.80" y2="194.70" stroke="#1a1a1a" stroke-width="0.7" />
<line x1="181.50" y1="192.30" x2="181.50" y2="194.70" stroke="#1a1a1a" stroke-width="0.7" />
<line x1="183.20" y1="192.30" x2="183.20" y2="194.70" stroke="#1a1a1a" stroke-width="0.7" />
<line x1="184.90" y1="192.30" x2="184.90" y2="194.70" stroke="#1a1a1a" stroke-width="0.7" />
<line x1="188.00" y1="192.30" x2="188.00" y2="194.70" stroke="#1a1a1a" stroke-width="0.7" />
<line x1="189.50" y1="192.30" x2="189.50" y2="194.70" stroke="#1a1a1a" stroke-width="0.7" />
<line x1="191.00" y1="192.30" x2="191.00" y2="194.70" stroke="#1a1a1a" stroke-width="0.7" />
<line x1="192.50" y1="192.30" x2="192.50" y2="194.70" stroke="#1a1a1a" stroke-width="0.7" />
<line x1="194.00" y1="192.30" x2="194.00" y2="194.70" stroke="#1a1a1a" stroke-width="0.7" />
<line x1="195.50" y1="192.30" x2="195.50" y2="194.70" stroke="#1a1a1a" stroke-width="0.7" />
<line x1="171.40" y1="192.30" x2="171.40" y2="195.70" stroke="#1a1a1a" stroke-width="1.0" />
<line x1="186.80" y1="192.30" x2="186.80" y2="195.70" stroke="#1a1a1a" stroke-width="1.0" />
<line x1="197.20" y1="192.30" x2="197.20" y2="195.70" stroke="#1a1a1a" stroke-width="1.0" />
<line x1="216.40" y1="192.30" x2="216.40" y2="195.70" stroke="#1a1a1a" stroke-width="1.0" />
<line x1="232.00" y1="192.30" x2="232.00" y2="195.70" stroke="#1a1a1a" stroke-width="1.0" />
<text x="169.60" y="203.60" font-size="8.30" text-anchor="middle" textLength="13.40" lengthAdjust="spacingAndGlyphs" >−10<tspan dx="0.00" dy="-3.15" font-size="5.64">3</tspan><tspan dx="0.00" dy="3.15"></tspan></text>
<text x="187.70" y="203.60" font-size="8.30" text-anchor="middle" >0</text>
<text x="197.20" y="203.60" font-size="8.30" text-anchor="middle" textLength="9.00" lengthAdjust="spacingAndGlyphs" >10<tspan dx="0.00" dy="-3.15" font-size="5.64">3</tspan><tspan dx="0.00" dy="3.15"></tspan></text>
<text x="215.60" y="203.60" font-size="8.30" text-anchor="middle" textLength="9.80" lengthAdjust="spacingAndGlyphs" >10<tspan dx="0.00" dy="-3.15" font-size="5.64">4</tspan><tspan dx="0.00" dy="3.15"></tspan></text>
<text x="231.90" y="203.60" font-size="8.30" text-anchor="middle" textLength="9.80" lengthAdjust="spacingAndGlyphs" >10<tspan dx="0.00" dy="-3.15" font-size="5.64">5</tspan><tspan dx="0.00" dy="3.15"></tspan></text>
<line x1="180.40" y1="166.00" x2="196.60" y2="166.00" stroke="#111" stroke-width="1.15" />
<line x1="180.40" y1="164.30" x2="180.40" y2="167.70" stroke="#111" stroke-width="0.9" />
<line x1="196.60" y1="164.30" x2="196.60" y2="167.70" stroke="#111" stroke-width="0.9" />
<line x1="213.60" y1="170.20" x2="230.50" y2="170.20" stroke="#111" stroke-width="1.15" />
<line x1="213.60" y1="168.50" x2="213.60" y2="171.90" stroke="#111" stroke-width="0.9" />
<line x1="230.50" y1="168.50" x2="230.50" y2="171.90" stroke="#111" stroke-width="0.9" />
<text x="205.00" y="122.00" font-size="9.90" text-anchor="middle" textLength="19.00" lengthAdjust="spacingAndGlyphs" >CD4</text>
<text x="205.20" y="215.40" font-size="9.60" text-anchor="middle" textLength="15.60" lengthAdjust="spacingAndGlyphs" >CFSE</text>
<text x="147.25" y="158.70" font-size="10.00" text-anchor="middle" textLength="46.50" lengthAdjust="spacingAndGlyphs" transform="rotate(-90 147.25 158.70)" fill="#1a1a1a">% CD4<tspan dx="0.50" dy="-3.10" font-size="5.20">+</tspan><tspan dx="0.50" dy="3.10"> T cells</tspan></text>
<circle cx="243.80" cy="112.50" r="2.60" fill="#124a88"/>
<text x="249.50" y="115.27" font-size="7.70" textLength="10.40" lengthAdjust="spacingAndGlyphs" >WT</text>
<rect x="266.50" y="110.60" width="5.00" height="5.00" fill="#cb1235" stroke="none" stroke-width="0.8" />
<text x="275.00" y="115.87" font-size="7.70" textLength="10.80" lengthAdjust="spacingAndGlyphs" >KO</text>
<path d="M293.50,192.60 C295.33,192.50 302.42,192.77 304.50,192.00 C306.58,191.23 305.42,191.33 306.00,188.00 C306.58,184.67 307.33,176.67 308.00,172.00 C308.67,167.33 309.45,162.42 310.00,160.00 C310.55,157.58 310.87,157.00 311.30,157.50 C311.73,158.00 312.18,160.70 312.60,163.00 C313.02,165.30 313.28,168.78 313.80,171.30 C314.32,173.82 315.08,176.98 315.70,178.10 C316.32,179.22 316.83,177.00 317.50,178.00 C318.17,179.00 318.85,184.00 319.70,184.10 C320.55,184.20 321.70,178.87 322.60,178.60 C323.50,178.33 324.37,181.93 325.10,182.50 C325.83,183.07 326.27,183.22 327.00,182.00 C327.73,180.78 328.75,175.18 329.50,175.20 C330.25,175.22 330.68,183.08 331.50,182.10 C332.32,181.12 333.67,170.28 334.40,169.30 C335.13,168.32 335.47,178.58 335.90,176.20 C336.33,173.82 336.58,161.97 337.00,155.00 C337.42,148.03 337.97,136.57 338.40,134.40 C338.83,132.23 339.27,138.65 339.60,142.00 C339.93,145.35 340.03,147.48 340.40,154.50 C340.77,161.52 341.32,177.92 341.80,184.10 C342.28,190.28 340.30,190.18 343.30,191.60 C346.30,193.02 357.05,192.43 359.80,192.60 L359.80,192.70 L293.50,192.70 Z" fill="rgba(213,20,60,0.58)" stroke="none" stroke-width="1.0" />
<path d="M293.50,192.60 C295.33,192.50 302.42,192.77 304.50,192.00 C306.58,191.23 305.42,191.33 306.00,188.00 C306.58,184.67 307.33,176.67 308.00,172.00 C308.67,167.33 309.45,162.42 310.00,160.00 C310.55,157.58 310.87,157.00 311.30,157.50 C311.73,158.00 312.18,160.70 312.60,163.00 C313.02,165.30 313.28,168.78 313.80,171.30 C314.32,173.82 315.08,176.98 315.70,178.10 C316.32,179.22 316.83,177.00 317.50,178.00 C318.17,179.00 318.85,184.00 319.70,184.10 C320.55,184.20 321.70,178.87 322.60,178.60 C323.50,178.33 324.37,181.93 325.10,182.50 C325.83,183.07 326.27,183.22 327.00,182.00 C327.73,180.78 328.75,175.18 329.50,175.20 C330.25,175.22 330.68,183.08 331.50,182.10 C332.32,181.12 333.67,170.28 334.40,169.30 C335.13,168.32 335.47,178.58 335.90,176.20 C336.33,173.82 336.58,161.97 337.00,155.00 C337.42,148.03 337.97,136.57 338.40,134.40 C338.83,132.23 339.27,138.65 339.60,142.00 C339.93,145.35 340.03,147.48 340.40,154.50 C340.77,161.52 341.32,177.92 341.80,184.10 C342.28,190.28 340.30,190.18 343.30,191.60 C346.30,193.02 357.05,192.43 359.80,192.60" fill="none" stroke="#cf1a40" stroke-width="1.1" />
<path d="M293.50,192.60 C295.40,192.48 302.73,193.17 304.90,191.90 C307.07,190.63 306.00,189.58 306.50,185.00 C307.00,180.42 307.50,171.12 307.90,164.40 C308.30,157.68 308.50,150.37 308.90,144.70 C309.30,139.03 309.82,131.22 310.30,130.40 C310.78,129.58 311.38,135.78 311.80,139.80 C312.22,143.82 312.47,149.58 312.80,154.50 C313.13,159.42 313.38,164.70 313.80,169.30 C314.22,173.90 314.65,179.32 315.30,182.10 C315.95,184.88 316.80,185.02 317.70,186.00 C318.60,186.98 319.72,187.83 320.70,188.00 C321.68,188.17 322.62,187.00 323.60,187.00 C324.58,187.00 325.62,188.00 326.60,188.00 C327.58,188.00 328.52,187.00 329.50,187.00 C330.48,187.00 331.60,188.33 332.50,188.00 C333.40,187.67 334.17,185.17 334.90,185.00 C335.63,184.83 336.40,187.98 336.90,187.00 C337.40,186.02 337.48,182.70 337.90,179.10 C338.32,175.50 338.92,165.40 339.40,165.40 C339.88,165.40 340.32,175.00 340.80,179.10 C341.28,183.20 341.88,187.87 342.30,190.00 C342.72,192.13 340.38,191.47 343.30,191.90 C346.22,192.33 357.05,192.48 359.80,192.60 L359.80,192.70 L293.50,192.70 Z" fill="rgba(98,142,195,0.58)" stroke="none" stroke-width="1.0" />
<path d="M293.50,192.60 C295.40,192.48 302.73,193.17 304.90,191.90 C307.07,190.63 306.00,189.58 306.50,185.00 C307.00,180.42 307.50,171.12 307.90,164.40 C308.30,157.68 308.50,150.37 308.90,144.70 C309.30,139.03 309.82,131.22 310.30,130.40 C310.78,129.58 311.38,135.78 311.80,139.80 C312.22,143.82 312.47,149.58 312.80,154.50 C313.13,159.42 313.38,164.70 313.80,169.30 C314.22,173.90 314.65,179.32 315.30,182.10 C315.95,184.88 316.80,185.02 317.70,186.00 C318.60,186.98 319.72,187.83 320.70,188.00 C321.68,188.17 322.62,187.00 323.60,187.00 C324.58,187.00 325.62,188.00 326.60,188.00 C327.58,188.00 328.52,187.00 329.50,187.00 C330.48,187.00 331.60,188.33 332.50,188.00 C333.40,187.67 334.17,185.17 334.90,185.00 C335.63,184.83 336.40,187.98 336.90,187.00 C337.40,186.02 337.48,182.70 337.90,179.10 C338.32,175.50 338.92,165.40 339.40,165.40 C339.88,165.40 340.32,175.00 340.80,179.10 C341.28,183.20 341.88,187.87 342.30,190.00 C342.72,192.13 340.38,191.47 343.30,191.90 C346.22,192.33 357.05,192.48 359.80,192.60" fill="none" stroke="#2d5d98" stroke-width="1.1" />
<rect x="293.50" y="124.80" width="66.30" height="67.90" fill="none" stroke="#1a1a1a" stroke-width="1.3" />
<line x1="292.00" y1="192.70" x2="293.50" y2="192.70" stroke="#1a1a1a" stroke-width="0.6" />
<line x1="292.00" y1="190.16" x2="293.50" y2="190.16" stroke="#1a1a1a" stroke-width="0.6" />
<line x1="292.00" y1="187.62" x2="293.50" y2="187.62" stroke="#1a1a1a" stroke-width="0.6" />
<line x1="292.00" y1="185.08" x2="293.50" y2="185.08" stroke="#1a1a1a" stroke-width="0.6" />
<line x1="292.00" y1="182.54" x2="293.50" y2="182.54" stroke="#1a1a1a" stroke-width="0.6" />
<line x1="292.00" y1="180.00" x2="293.50" y2="180.00" stroke="#1a1a1a" stroke-width="0.6" />
<line x1="292.00" y1="177.46" x2="293.50" y2="177.46" stroke="#1a1a1a" stroke-width="0.6" />
<line x1="292.00" y1="174.92" x2="293.50" y2="174.92" stroke="#1a1a1a" stroke-width="0.6" />
<line x1="292.00" y1="172.38" x2="293.50" y2="172.38" stroke="#1a1a1a" stroke-width="0.6" />
<line x1="292.00" y1="169.84" x2="293.50" y2="169.84" stroke="#1a1a1a" stroke-width="0.6" />
<line x1="292.00" y1="167.30" x2="293.50" y2="167.30" stroke="#1a1a1a" stroke-width="0.6" />
<line x1="292.00" y1="164.76" x2="293.50" y2="164.76" stroke="#1a1a1a" stroke-width="0.6" />
<line x1="292.00" y1="162.22" x2="293.50" y2="162.22" stroke="#1a1a1a" stroke-width="0.6" />
<line x1="292.00" y1="159.68" x2="293.50" y2="159.68" stroke="#1a1a1a" stroke-width="0.6" />
<line x1="292.00" y1="157.14" x2="293.50" y2="157.14" stroke="#1a1a1a" stroke-width="0.6" />
<line x1="292.00" y1="154.60" x2="293.50" y2="154.60" stroke="#1a1a1a" stroke-width="0.6" />
<line x1="292.00" y1="152.06" x2="293.50" y2="152.06" stroke="#1a1a1a" stroke-width="0.6" />
<line x1="292.00" y1="149.52" x2="293.50" y2="149.52" stroke="#1a1a1a" stroke-width="0.6" />
<line x1="292.00" y1="146.98" x2="293.50" y2="146.98" stroke="#1a1a1a" stroke-width="0.6" />
<line x1="292.00" y1="144.44" x2="293.50" y2="144.44" stroke="#1a1a1a" stroke-width="0.6" />
<line x1="292.00" y1="141.90" x2="293.50" y2="141.90" stroke="#1a1a1a" stroke-width="0.6" />
<line x1="292.00" y1="139.36" x2="293.50" y2="139.36" stroke="#1a1a1a" stroke-width="0.6" />
<line x1="292.00" y1="136.82" x2="293.50" y2="136.82" stroke="#1a1a1a" stroke-width="0.6" />
<line x1="292.00" y1="134.28" x2="293.50" y2="134.28" stroke="#1a1a1a" stroke-width="0.6" />
<line x1="292.00" y1="131.74" x2="293.50" y2="131.74" stroke="#1a1a1a" stroke-width="0.6" />
<line x1="292.00" y1="129.20" x2="293.50" y2="129.20" stroke="#1a1a1a" stroke-width="0.6" />
<line x1="290.90" y1="129.20" x2="293.50" y2="129.20" stroke="#1a1a1a" stroke-width="0.9" />
<line x1="290.90" y1="141.90" x2="293.50" y2="141.90" stroke="#1a1a1a" stroke-width="0.9" />
<line x1="290.90" y1="154.80" x2="293.50" y2="154.80" stroke="#1a1a1a" stroke-width="0.9" />
<line x1="290.90" y1="167.30" x2="293.50" y2="167.30" stroke="#1a1a1a" stroke-width="0.9" />
<line x1="290.90" y1="179.80" x2="293.50" y2="179.80" stroke="#1a1a1a" stroke-width="0.9" />
<line x1="290.90" y1="192.70" x2="293.50" y2="192.70" stroke="#1a1a1a" stroke-width="0.9" />
<text x="288.90" y="132.05" font-size="8.00" text-anchor="end" textLength="11.60" lengthAdjust="spacingAndGlyphs" >100</text>
<text x="288.90" y="144.75" font-size="8.00" text-anchor="end" >80</text>
<text x="288.90" y="157.65" font-size="8.00" text-anchor="end" >60</text>
<text x="288.90" y="170.15" font-size="8.00" text-anchor="end" >40</text>
<text x="288.90" y="182.65" font-size="8.00" text-anchor="end" >20</text>
<text x="288.90" y="195.55" font-size="8.00" text-anchor="end" >0</text>
<line x1="325.24" y1="192.70" x2="325.24" y2="195.10" stroke="#1a1a1a" stroke-width="0.7" />
<line x1="328.30" y1="192.70" x2="328.30" y2="195.10" stroke="#1a1a1a" stroke-width="0.7" />
<line x1="330.48" y1="192.70" x2="330.48" y2="195.10" stroke="#1a1a1a" stroke-width="0.7" />
<line x1="332.16" y1="192.70" x2="332.16" y2="195.10" stroke="#1a1a1a" stroke-width="0.7" />
<line x1="333.54" y1="192.70" x2="333.54" y2="195.10" stroke="#1a1a1a" stroke-width="0.7" />
<line x1="334.70" y1="192.70" x2="334.70" y2="195.10" stroke="#1a1a1a" stroke-width="0.7" />
<line x1="335.71" y1="192.70" x2="335.71" y2="195.10" stroke="#1a1a1a" stroke-width="0.7" />
<line x1="336.60" y1="192.70" x2="336.60" y2="195.10" stroke="#1a1a1a" stroke-width="0.7" />
<line x1="342.46" y1="192.70" x2="342.46" y2="195.10" stroke="#1a1a1a" stroke-width="0.7" />
<line x1="345.42" y1="192.70" x2="345.42" y2="195.10" stroke="#1a1a1a" stroke-width="0.7" />
<line x1="347.51" y1="192.70" x2="347.51" y2="195.10" stroke="#1a1a1a" stroke-width="0.7" />
<line x1="349.14" y1="192.70" x2="349.14" y2="195.10" stroke="#1a1a1a" stroke-width="0.7" />
<line x1="350.47" y1="192.70" x2="350.47" y2="195.10" stroke="#1a1a1a" stroke-width="0.7" />
<line x1="351.60" y1="192.70" x2="351.60" y2="195.10" stroke="#1a1a1a" stroke-width="0.7" />
<line x1="352.57" y1="192.70" x2="352.57" y2="195.10" stroke="#1a1a1a" stroke-width="0.7" />
<line x1="353.43" y1="192.70" x2="353.43" y2="195.10" stroke="#1a1a1a" stroke-width="0.7" />
<line x1="295.00" y1="192.70" x2="295.00" y2="195.10" stroke="#1a1a1a" stroke-width="0.7" />
<line x1="296.70" y1="192.70" x2="296.70" y2="195.10" stroke="#1a1a1a" stroke-width="0.7" />
<line x1="298.40" y1="192.70" x2="298.40" y2="195.10" stroke="#1a1a1a" stroke-width="0.7" />
<line x1="300.10" y1="192.70" x2="300.10" y2="195.10" stroke="#1a1a1a" stroke-width="0.7" />
<line x1="301.80" y1="192.70" x2="301.80" y2="195.10" stroke="#1a1a1a" stroke-width="0.7" />
<line x1="303.50" y1="192.70" x2="303.50" y2="195.10" stroke="#1a1a1a" stroke-width="0.7" />
<line x1="305.20" y1="192.70" x2="305.20" y2="195.10" stroke="#1a1a1a" stroke-width="0.7" />
<line x1="306.90" y1="192.70" x2="306.90" y2="195.10" stroke="#1a1a1a" stroke-width="0.7" />
<line x1="311.00" y1="192.70" x2="311.00" y2="195.10" stroke="#1a1a1a" stroke-width="0.7" />
<line x1="312.50" y1="192.70" x2="312.50" y2="195.10" stroke="#1a1a1a" stroke-width="0.7" />
<line x1="314.00" y1="192.70" x2="314.00" y2="195.10" stroke="#1a1a1a" stroke-width="0.7" />
<line x1="315.50" y1="192.70" x2="315.50" y2="195.10" stroke="#1a1a1a" stroke-width="0.7" />
<line x1="317.00" y1="192.70" x2="317.00" y2="195.10" stroke="#1a1a1a" stroke-width="0.7" />
<line x1="318.50" y1="192.70" x2="318.50" y2="195.10" stroke="#1a1a1a" stroke-width="0.7" />
<line x1="293.50" y1="192.70" x2="293.50" y2="196.10" stroke="#1a1a1a" stroke-width="1.0" />
<line x1="309.50" y1="192.70" x2="309.50" y2="196.10" stroke="#1a1a1a" stroke-width="1.0" />
<line x1="320.00" y1="192.70" x2="320.00" y2="196.10" stroke="#1a1a1a" stroke-width="1.0" />
<line x1="337.40" y1="192.70" x2="337.40" y2="196.10" stroke="#1a1a1a" stroke-width="1.0" />
<line x1="354.20" y1="192.70" x2="354.20" y2="196.10" stroke="#1a1a1a" stroke-width="1.0" />
<text x="290.80" y="204.20" font-size="8.30" text-anchor="middle" textLength="10.60" lengthAdjust="spacingAndGlyphs" >−10<tspan dx="0.00" dy="-3.15" font-size="5.64">3</tspan><tspan dx="0.00" dy="3.15"></tspan></text>
<text x="309.50" y="204.20" font-size="8.30" text-anchor="middle" >0</text>
<text x="320.00" y="204.20" font-size="8.30" text-anchor="middle" textLength="9.20" lengthAdjust="spacingAndGlyphs" >10<tspan dx="0.00" dy="-3.15" font-size="5.64">3</tspan><tspan dx="0.00" dy="3.15"></tspan></text>
<text x="337.40" y="204.20" font-size="8.30" text-anchor="middle" textLength="8.20" lengthAdjust="spacingAndGlyphs" >10<tspan dx="0.00" dy="-3.15" font-size="5.64">4</tspan><tspan dx="0.00" dy="3.15"></tspan></text>
<text x="354.20" y="204.20" font-size="8.30" text-anchor="middle" textLength="9.20" lengthAdjust="spacingAndGlyphs" >10<tspan dx="0.00" dy="-3.15" font-size="5.64">5</tspan><tspan dx="0.00" dy="3.15"></tspan></text>
<line x1="301.20" y1="162.50" x2="316.90" y2="162.50" stroke="#111" stroke-width="1.15" />
<line x1="301.20" y1="160.80" x2="301.20" y2="164.20" stroke="#111" stroke-width="0.9" />
<line x1="316.90" y1="160.80" x2="316.90" y2="164.20" stroke="#111" stroke-width="0.9" />
<line x1="335.20" y1="166.90" x2="350.00" y2="166.90" stroke="#111" stroke-width="1.15" />
<line x1="335.20" y1="165.20" x2="335.20" y2="168.60" stroke="#111" stroke-width="0.9" />
<line x1="350.00" y1="165.20" x2="350.00" y2="168.60" stroke="#111" stroke-width="0.9" />
<text x="326.40" y="122.10" font-size="9.90" text-anchor="middle" textLength="18.90" lengthAdjust="spacingAndGlyphs" >CD8</text>
<text x="208.30" y="229.20" font-size="9.90" text-anchor="middle" textLength="50.30" lengthAdjust="spacingAndGlyphs" >CD4<tspan dx="0.50" dy="-3.07" font-size="5.15">+</tspan><tspan dx="0.50" dy="3.07"> CFSE<tspan dx="0.50" dy="-3.07" font-size="5.15">−</tspan><tspan dx="0.50" dy="3.07"></tspan></tspan></text>
<line x1="171.50" y1="232.00" x2="171.50" y2="300.90" stroke="#1a1a1a" stroke-width="1.1" />
<line x1="168.30" y1="232.50" x2="171.50" y2="232.50" stroke="#1a1a1a" stroke-width="1.0" />
<text x="165.20" y="235.01" font-size="8.20" text-anchor="end" textLength="11.60" lengthAdjust="spacingAndGlyphs" >100</text>
<line x1="168.30" y1="246.50" x2="171.50" y2="246.50" stroke="#1a1a1a" stroke-width="1.0" />
<text x="165.20" y="248.91" font-size="8.20" text-anchor="end" >80</text>
<line x1="168.30" y1="259.50" x2="171.50" y2="259.50" stroke="#1a1a1a" stroke-width="1.0" />
<text x="165.20" y="262.61" font-size="8.20" text-anchor="end" >60</text>
<line x1="168.30" y1="273.50" x2="171.50" y2="273.50" stroke="#1a1a1a" stroke-width="1.0" />
<text x="165.20" y="276.11" font-size="8.20" text-anchor="end" >40</text>
<line x1="168.30" y1="286.50" x2="171.50" y2="286.50" stroke="#1a1a1a" stroke-width="1.0" />
<text x="165.20" y="289.81" font-size="8.20" text-anchor="end" >20</text>
<line x1="168.30" y1="300.50" x2="171.50" y2="300.50" stroke="#1a1a1a" stroke-width="1.0" />
<text x="165.20" y="303.31" font-size="8.20" text-anchor="end" >0</text>
<rect x="183.10" y="260.70" width="20.40" height="39.60" fill="#6f96b8" stroke="#5f8ab0" stroke-width="0.7" />
<rect x="216.20" y="273.20" width="20.70" height="27.10" fill="#dc7080" stroke="#d65a70" stroke-width="0.7" />
<line x1="193.10" y1="247.30" x2="193.10" y2="273.90" stroke="#124a88" stroke-width="1.15" />
<line x1="188.20" y1="247.30" x2="198.00" y2="247.30" stroke="#124a88" stroke-width="1.15" />
<line x1="188.20" y1="273.90" x2="198.00" y2="273.90" stroke="#124a88" stroke-width="1.15" />
<line x1="226.20" y1="259.30" x2="226.20" y2="286.50" stroke="#cb1235" stroke-width="1.15" />
<line x1="220.90" y1="259.30" x2="231.50" y2="259.30" stroke="#cb1235" stroke-width="1.15" />
<line x1="220.90" y1="286.50" x2="231.50" y2="286.50" stroke="#cb1235" stroke-width="1.15" />
<circle cx="184.90" cy="247.00" r="1.75" fill="#124a88"/>
<circle cx="189.20" cy="249.60" r="1.75" fill="#124a88"/>
<circle cx="193.10" cy="250.40" r="1.75" fill="#124a88"/>
<circle cx="197.40" cy="249.20" r="1.75" fill="#124a88"/>
<circle cx="201.50" cy="247.00" r="1.75" fill="#124a88"/>
<circle cx="193.10" cy="257.00" r="1.75" fill="#124a88"/>
<circle cx="190.50" cy="263.00" r="1.75" fill="#124a88"/>
<circle cx="194.60" cy="264.50" r="1.75" fill="#124a88"/>
<circle cx="197.70" cy="263.20" r="1.75" fill="#124a88"/>
<circle cx="190.50" cy="268.80" r="1.75" fill="#124a88"/>
<circle cx="193.10" cy="277.60" r="1.75" fill="#124a88"/>
<circle cx="193.10" cy="289.90" r="1.75" fill="#124a88"/>
<rect x="224.50" y="251.50" width="3.40" height="3.40" fill="#cb1235" stroke="none" stroke-width="0.8" />
<rect x="219.50" y="258.70" width="3.40" height="3.40" fill="#cb1235" stroke="none" stroke-width="0.8" />
<rect x="226.80" y="256.40" width="3.40" height="3.40" fill="#cb1235" stroke="none" stroke-width="0.8" />
<rect x="216.80" y="262.50" width="3.40" height="3.40" fill="#cb1235" stroke="none" stroke-width="0.8" />
<rect x="222.10" y="263.30" width="3.40" height="3.40" fill="#cb1235" stroke="none" stroke-width="0.8" />
<rect x="231.80" y="262.50" width="3.40" height="3.40" fill="#cb1235" stroke="none" stroke-width="0.8" />
<rect x="226.80" y="266.80" width="3.40" height="3.40" fill="#cb1235" stroke="none" stroke-width="0.8" />
<rect x="224.50" y="272.50" width="3.40" height="3.40" fill="#cb1235" stroke="none" stroke-width="0.8" />
<rect x="219.80" y="281.30" width="3.40" height="3.40" fill="#cb1235" stroke="none" stroke-width="0.8" />
<rect x="229.50" y="280.70" width="3.40" height="3.40" fill="#cb1235" stroke="none" stroke-width="0.8" />
<rect x="224.50" y="285.60" width="3.40" height="3.40" fill="#cb1235" stroke="none" stroke-width="0.8" />
<rect x="227.10" y="289.50" width="3.40" height="3.40" fill="#cb1235" stroke="none" stroke-width="0.8" />
<rect x="222.10" y="293.00" width="3.40" height="3.40" fill="#cb1235" stroke="none" stroke-width="0.8" />
<line x1="197.20" y1="242.20" x2="222.60" y2="242.20" stroke="#222" stroke-width="1.2" />
<text x="209.90" y="242.90" font-size="9.30" text-anchor="middle" >*</text>
<text x="147.55" y="266.30" font-size="10.00" text-anchor="middle" textLength="46.90" lengthAdjust="spacingAndGlyphs" transform="rotate(-90 147.55 266.30)" fill="#1a1a1a">% CD4<tspan dx="0.50" dy="-3.10" font-size="5.20">+</tspan><tspan dx="0.50" dy="3.10"> T cells</tspan></text>
<text x="329.50" y="229.20" font-size="9.90" text-anchor="middle" textLength="49.70" lengthAdjust="spacingAndGlyphs" >CD8<tspan dx="0.50" dy="-3.07" font-size="5.15">+</tspan><tspan dx="0.50" dy="3.07"> CFSE<tspan dx="0.50" dy="-3.07" font-size="5.15">−</tspan><tspan dx="0.50" dy="3.07"></tspan></tspan></text>
<line x1="293.50" y1="232.00" x2="293.50" y2="300.60" stroke="#1a1a1a" stroke-width="1.1" />
<line x1="290.30" y1="232.50" x2="293.50" y2="232.50" stroke="#1a1a1a" stroke-width="1.0" />
<text x="287.20" y="235.61" font-size="8.20" text-anchor="end" >80</text>
<line x1="290.30" y1="249.50" x2="293.50" y2="249.50" stroke="#1a1a1a" stroke-width="1.0" />
<text x="287.20" y="252.31" font-size="8.20" text-anchor="end" >60</text>
<line x1="290.30" y1="266.50" x2="293.50" y2="266.50" stroke="#1a1a1a" stroke-width="1.0" />
<text x="287.20" y="269.21" font-size="8.20" text-anchor="end" >40</text>
<line x1="290.30" y1="283.50" x2="293.50" y2="283.50" stroke="#1a1a1a" stroke-width="1.0" />
<text x="287.20" y="286.31" font-size="8.20" text-anchor="end" >20</text>
<line x1="290.30" y1="300.50" x2="293.50" y2="300.50" stroke="#1a1a1a" stroke-width="1.0" />
<text x="287.20" y="303.01" font-size="8.20" text-anchor="end" >0</text>
<rect x="304.60" y="264.20" width="20.50" height="35.90" fill="#6f96b8" stroke="#5f8ab0" stroke-width="0.7" />
<rect x="337.40" y="274.70" width="20.60" height="25.40" fill="#dc7080" stroke="#d65a70" stroke-width="0.7" />
<line x1="314.60" y1="252.40" x2="314.60" y2="275.80" stroke="#124a88" stroke-width="1.15" />
<line x1="309.70" y1="252.40" x2="319.50" y2="252.40" stroke="#124a88" stroke-width="1.15" />
<line x1="309.70" y1="275.80" x2="319.50" y2="275.80" stroke="#124a88" stroke-width="1.15" />
<line x1="347.70" y1="263.50" x2="347.70" y2="285.00" stroke="#cb1235" stroke-width="1.15" />
<line x1="342.40" y1="263.50" x2="353.00" y2="263.50" stroke="#cb1235" stroke-width="1.15" />
<line x1="342.40" y1="285.00" x2="353.00" y2="285.00" stroke="#cb1235" stroke-width="1.15" />
<circle cx="312.60" cy="248.10" r="1.75" fill="#124a88"/>
<circle cx="320.00" cy="250.70" r="1.75" fill="#124a88"/>
<circle cx="317.40" cy="255.30" r="1.75" fill="#124a88"/>
<circle cx="309.70" cy="257.80" r="1.75" fill="#124a88"/>
<circle cx="307.20" cy="259.60" r="1.75" fill="#124a88"/>
<circle cx="311.50" cy="259.60" r="1.75" fill="#124a88"/>
<circle cx="322.30" cy="260.40" r="1.75" fill="#124a88"/>
<circle cx="317.40" cy="263.90" r="1.75" fill="#124a88"/>
<circle cx="314.60" cy="269.20" r="1.75" fill="#124a88"/>
<circle cx="311.50" cy="276.50" r="1.75" fill="#124a88"/>
<circle cx="318.20" cy="276.50" r="1.75" fill="#124a88"/>
<circle cx="314.60" cy="288.10" r="1.75" fill="#124a88"/>
<rect x="348.60" y="254.50" width="3.40" height="3.40" fill="#cb1235" stroke="none" stroke-width="0.8" />
<rect x="343.40" y="257.10" width="3.40" height="3.40" fill="#cb1235" stroke="none" stroke-width="0.8" />
<rect x="346.00" y="263.80" width="3.40" height="3.40" fill="#cb1235" stroke="none" stroke-width="0.8" />
<rect x="341.40" y="270.20" width="3.40" height="3.40" fill="#cb1235" stroke="none" stroke-width="0.8" />
<rect x="346.00" y="270.50" width="3.40" height="3.40" fill="#cb1235" stroke="none" stroke-width="0.8" />
<rect x="351.10" y="270.20" width="3.40" height="3.40" fill="#cb1235" stroke="none" stroke-width="0.8" />
<rect x="348.80" y="277.60" width="3.40" height="3.40" fill="#cb1235" stroke="none" stroke-width="0.8" />
<rect x="338.30" y="285.30" width="3.40" height="3.40" fill="#cb1235" stroke="none" stroke-width="0.8" />
<rect x="343.70" y="288.40" width="3.40" height="3.40" fill="#cb1235" stroke="none" stroke-width="0.8" />
<rect x="348.80" y="285.60" width="3.40" height="3.40" fill="#cb1235" stroke="none" stroke-width="0.8" />
<rect x="353.70" y="285.30" width="3.40" height="3.40" fill="#cb1235" stroke="none" stroke-width="0.8" />
<line x1="318.50" y1="241.90" x2="344.20" y2="241.90" stroke="#222" stroke-width="1.2" />
<text x="331.35" y="242.60" font-size="9.30" text-anchor="middle" >*</text>
<text x="272.95" y="266.60" font-size="10.00" text-anchor="middle" textLength="46.20" lengthAdjust="spacingAndGlyphs" transform="rotate(-90 272.95 266.60)" fill="#1a1a1a">% CD8<tspan dx="0.50" dy="-3.10" font-size="5.20">+</tspan><tspan dx="0.50" dy="3.10"> T cells</tspan></text>
<text x="384.60" y="114.80" font-size="11.00" font-weight="bold" fill="#000" style="stroke:#000;stroke-width:0.35px">E</text>
<text x="455.80" y="121.90" font-size="9.90" text-anchor="middle" textLength="47.70" lengthAdjust="spacingAndGlyphs" >CD4 T cells</text>
<line x1="415.50" y1="127.00" x2="415.50" y2="188.90" stroke="#1a1a1a" stroke-width="1.1" />
<line x1="412.30" y1="127.50" x2="415.50" y2="127.50" stroke="#1a1a1a" stroke-width="1.0" />
<text x="409.70" y="130.71" font-size="8.20" text-anchor="end" textLength="10.60" lengthAdjust="spacingAndGlyphs" >1.5</text>
<line x1="412.30" y1="148.50" x2="415.50" y2="148.50" stroke="#1a1a1a" stroke-width="1.0" />
<text x="409.70" y="151.01" font-size="8.20" text-anchor="end" textLength="10.60" lengthAdjust="spacingAndGlyphs" >1.0</text>
<line x1="412.30" y1="168.50" x2="415.50" y2="168.50" stroke="#1a1a1a" stroke-width="1.0" />
<text x="409.70" y="171.01" font-size="8.20" text-anchor="end" textLength="10.60" lengthAdjust="spacingAndGlyphs" >0.5</text>
<line x1="412.30" y1="188.50" x2="415.50" y2="188.50" stroke="#1a1a1a" stroke-width="1.0" />
<text x="409.70" y="191.31" font-size="8.20" text-anchor="end" textLength="10.60" lengthAdjust="spacingAndGlyphs" >0.0</text>
<line x1="431.50" y1="188.50" x2="431.50" y2="191.10" stroke="#1a1a1a" stroke-width="1.0" />
<text x="431.50" y="199.10" font-size="8.40" text-anchor="middle" >1</text>
<line x1="455.60" y1="188.50" x2="455.60" y2="191.10" stroke="#1a1a1a" stroke-width="1.0" />
<text x="455.60" y="199.10" font-size="8.40" text-anchor="middle" >2</text>
<line x1="480.00" y1="188.50" x2="480.00" y2="191.10" stroke="#1a1a1a" stroke-width="1.0" />
<text x="480.00" y="199.10" font-size="8.40" text-anchor="middle" >3</text>
<text x="455.70" y="209.10" font-size="9.40" text-anchor="middle" textLength="66.60" lengthAdjust="spacingAndGlyphs" >Days post transplant</text>
<line x1="431.50" y1="180.30" x2="431.50" y2="183.00" stroke="#3f6fa8" stroke-width="0.9" />
<line x1="429.30" y1="180.30" x2="433.70" y2="180.30" stroke="#3f6fa8" stroke-width="0.9" />
<line x1="429.30" y1="183.00" x2="433.70" y2="183.00" stroke="#3f6fa8" stroke-width="0.9" />
<line x1="455.60" y1="178.30" x2="455.60" y2="186.00" stroke="#3f6fa8" stroke-width="0.9" />
<line x1="453.40" y1="178.30" x2="457.80" y2="178.30" stroke="#3f6fa8" stroke-width="0.9" />
<line x1="453.40" y1="186.00" x2="457.80" y2="186.00" stroke="#3f6fa8" stroke-width="0.9" />
<line x1="455.60" y1="180.50" x2="455.60" y2="183.50" stroke="#d64c68" stroke-width="0.9" />
<line x1="453.40" y1="180.50" x2="457.80" y2="180.50" stroke="#d64c68" stroke-width="0.9" />
<line x1="453.40" y1="183.50" x2="457.80" y2="183.50" stroke="#d64c68" stroke-width="0.9" />
<line x1="480.00" y1="135.40" x2="480.00" y2="165.40" stroke="#3f6fa8" stroke-width="0.9" />
<line x1="477.80" y1="135.40" x2="482.20" y2="135.40" stroke="#3f6fa8" stroke-width="0.9" />
<line x1="477.80" y1="165.40" x2="482.20" y2="165.40" stroke="#3f6fa8" stroke-width="0.9" />
<line x1="480.00" y1="171.50" x2="480.00" y2="178.30" stroke="#d64c68" stroke-width="0.9" />
<line x1="477.80" y1="171.50" x2="482.20" y2="171.50" stroke="#d64c68" stroke-width="0.9" />
<line x1="477.80" y1="178.30" x2="482.20" y2="178.30" stroke="#d64c68" stroke-width="0.9" />
<polyline points="431.50,181.50 455.60,182.10 480.00,150.40" fill="none" stroke="#124a88" stroke-width="1.5" stroke-linejoin="round"/>
<polyline points="431.50,182.70 455.60,181.70 480.00,175.00" fill="none" stroke="#cb1235" stroke-width="1.5" stroke-linejoin="round"/>
<circle cx="431.50" cy="181.50" r="1.90" fill="#124a88"/>
<circle cx="455.60" cy="182.10" r="1.90" fill="#124a88"/>
<circle cx="480.00" cy="150.40" r="1.90" fill="#124a88"/>
<rect x="429.80" y="181.00" width="3.40" height="3.40" fill="#cb1235" stroke="none" stroke-width="0.8" />
<rect x="453.90" y="180.00" width="3.40" height="3.40" fill="#cb1235" stroke="none" stroke-width="0.8" />
<rect x="478.30" y="173.30" width="3.40" height="3.40" fill="#cb1235" stroke="none" stroke-width="0.8" />
<text x="480.20" y="135.00" font-size="9.30" text-anchor="middle" >***</text>
<text x="393.45" y="157.70" font-size="10.00" text-anchor="middle" textLength="63.30" lengthAdjust="spacingAndGlyphs" transform="rotate(-90 393.45 157.70)" fill="#1a1a1a">CD4<tspan dx="0.50" dy="-3.10" font-size="5.20">+</tspan><tspan dx="0.50" dy="3.10"> T cells (×10<tspan dx="0.00" dy="-3.80" font-size="6.80">5</tspan><tspan dx="0.00" dy="3.80">)</tspan></tspan></text>
<line x1="487.70" y1="136.90" x2="496.00" y2="136.90" stroke="#124a88" stroke-width="1.4" />
<circle cx="492.00" cy="136.90" r="1.90" fill="#124a88"/>
<text x="500.40" y="139.60" font-size="7.30" textLength="10.20" lengthAdjust="spacingAndGlyphs" >WT</text>
<line x1="487.70" y1="149.40" x2="496.00" y2="149.40" stroke="#cb1235" stroke-width="1.4" />
<rect x="490.30" y="147.70" width="3.40" height="3.40" fill="#cb1235" stroke="none" stroke-width="0.8" />
<text x="500.80" y="152.10" font-size="7.30" textLength="9.80" lengthAdjust="spacingAndGlyphs" >KO</text>
<text x="455.90" y="226.30" font-size="9.90" text-anchor="middle" textLength="47.50" lengthAdjust="spacingAndGlyphs" >CD8 T cells</text>
<line x1="415.50" y1="231.00" x2="415.50" y2="292.50" stroke="#1a1a1a" stroke-width="1.1" />
<line x1="412.30" y1="231.50" x2="415.50" y2="231.50" stroke="#1a1a1a" stroke-width="1.0" />
<text x="409.60" y="234.31" font-size="8.20" text-anchor="end" >4</text>
<line x1="412.30" y1="246.50" x2="415.50" y2="246.50" stroke="#1a1a1a" stroke-width="1.0" />
<text x="409.60" y="249.41" font-size="8.20" text-anchor="end" >3</text>
<line x1="412.30" y1="261.50" x2="415.50" y2="261.50" stroke="#1a1a1a" stroke-width="1.0" />
<text x="409.60" y="264.41" font-size="8.20" text-anchor="end" >2</text>
<line x1="412.30" y1="276.50" x2="415.50" y2="276.50" stroke="#1a1a1a" stroke-width="1.0" />
<text x="409.60" y="279.81" font-size="8.20" text-anchor="end" >1</text>
<line x1="412.30" y1="292.50" x2="415.50" y2="292.50" stroke="#1a1a1a" stroke-width="1.0" />
<text x="409.60" y="294.91" font-size="8.20" text-anchor="end" >0</text>
<line x1="431.10" y1="292.10" x2="431.10" y2="294.70" stroke="#1a1a1a" stroke-width="1.0" />
<text x="431.10" y="302.60" font-size="8.40" text-anchor="middle" >1</text>
<line x1="455.30" y1="292.10" x2="455.30" y2="294.70" stroke="#1a1a1a" stroke-width="1.0" />
<text x="455.30" y="302.60" font-size="8.40" text-anchor="middle" >2</text>
<line x1="479.50" y1="292.10" x2="479.50" y2="294.70" stroke="#1a1a1a" stroke-width="1.0" />
<text x="479.50" y="302.60" font-size="8.40" text-anchor="middle" >3</text>
<text x="455.60" y="312.70" font-size="9.40" text-anchor="middle" textLength="66.50" lengthAdjust="spacingAndGlyphs" >Days post transplant</text>
<line x1="431.10" y1="279.50" x2="431.10" y2="284.00" stroke="#3f6fa8" stroke-width="0.9" />
<line x1="428.90" y1="279.50" x2="433.30" y2="279.50" stroke="#3f6fa8" stroke-width="0.9" />
<line x1="428.90" y1="284.00" x2="433.30" y2="284.00" stroke="#3f6fa8" stroke-width="0.9" />
<line x1="431.10" y1="284.00" x2="431.10" y2="287.00" stroke="#d64c68" stroke-width="0.9" />
<line x1="428.90" y1="284.00" x2="433.30" y2="284.00" stroke="#d64c68" stroke-width="0.9" />
<line x1="428.90" y1="287.00" x2="433.30" y2="287.00" stroke="#d64c68" stroke-width="0.9" />
<line x1="455.30" y1="278.50" x2="455.30" y2="291.60" stroke="#3f6fa8" stroke-width="0.9" />
<line x1="453.10" y1="278.50" x2="457.50" y2="278.50" stroke="#3f6fa8" stroke-width="0.9" />
<line x1="453.10" y1="291.60" x2="457.50" y2="291.60" stroke="#3f6fa8" stroke-width="0.9" />
<line x1="455.30" y1="283.50" x2="455.30" y2="289.00" stroke="#d64c68" stroke-width="0.9" />
<line x1="453.10" y1="283.50" x2="457.50" y2="283.50" stroke="#d64c68" stroke-width="0.9" />
<line x1="453.10" y1="289.00" x2="457.50" y2="289.00" stroke="#d64c68" stroke-width="0.9" />
<line x1="479.50" y1="240.80" x2="479.50" y2="259.30" stroke="#3f6fa8" stroke-width="0.9" />
<line x1="477.30" y1="240.80" x2="481.70" y2="240.80" stroke="#3f6fa8" stroke-width="0.9" />
<line x1="477.30" y1="259.30" x2="481.70" y2="259.30" stroke="#3f6fa8" stroke-width="0.9" />
<line x1="479.50" y1="272.50" x2="479.50" y2="280.80" stroke="#d64c68" stroke-width="0.9" />
<line x1="477.30" y1="272.50" x2="481.70" y2="272.50" stroke="#d64c68" stroke-width="0.9" />
<line x1="477.30" y1="280.80" x2="481.70" y2="280.80" stroke="#d64c68" stroke-width="0.9" />
<polyline points="431.10,281.70 455.30,285.40 479.50,249.40" fill="none" stroke="#124a88" stroke-width="1.5" stroke-linejoin="round"/>
<polyline points="431.10,285.40 455.30,286.30 479.50,276.60" fill="none" stroke="#cb1235" stroke-width="1.5" stroke-linejoin="round"/>
<circle cx="431.10" cy="281.70" r="1.90" fill="#124a88"/>
<circle cx="455.30" cy="285.40" r="1.90" fill="#124a88"/>
<circle cx="479.50" cy="249.40" r="1.90" fill="#124a88"/>
<rect x="429.40" y="283.70" width="3.40" height="3.40" fill="#cb1235" stroke="none" stroke-width="0.8" />
<rect x="453.60" y="284.60" width="3.40" height="3.40" fill="#cb1235" stroke="none" stroke-width="0.8" />
<rect x="477.80" y="274.90" width="3.40" height="3.40" fill="#cb1235" stroke="none" stroke-width="0.8" />
<text x="431.50" y="280.00" font-size="9.30" text-anchor="middle" >**</text>
<text x="480.80" y="241.00" font-size="9.30" text-anchor="middle" >***</text>
<text x="400.25" y="261.00" font-size="10.00" text-anchor="middle" textLength="61.90" lengthAdjust="spacingAndGlyphs" transform="rotate(-90 400.25 261.00)" fill="#1a1a1a">CD8<tspan dx="0.50" dy="-3.10" font-size="5.20">+</tspan><tspan dx="0.50" dy="3.10"> T cells (×10<tspan dx="0.00" dy="-3.80" font-size="6.80">4</tspan><tspan dx="0.00" dy="3.80">)</tspan></tspan></text>
<text x="9.00" y="324.60" font-size="11.00" font-weight="bold" fill="#000" style="stroke:#000;stroke-width:0.35px">F</text>
<text x="79.20" y="324.80" font-size="9.90" text-anchor="middle" textLength="62.10" lengthAdjust="spacingAndGlyphs" >CD4<tspan dx="0.50" dy="-3.07" font-size="5.15">+</tspan><tspan dx="0.50" dy="3.07"> LPAM-1<tspan dx="0.50" dy="-3.07" font-size="5.15">+</tspan><tspan dx="0.50" dy="3.07"></tspan></tspan></text>
<line x1="40.50" y1="329.00" x2="40.50" y2="388.40" stroke="#1a1a1a" stroke-width="1.1" />
<line x1="37.30" y1="329.50" x2="40.50" y2="329.50" stroke="#1a1a1a" stroke-width="1.0" />
<text x="34.90" y="332.01" font-size="8.20" text-anchor="end" textLength="12.70" lengthAdjust="spacingAndGlyphs" >100</text>
<line x1="37.30" y1="340.50" x2="40.50" y2="340.50" stroke="#1a1a1a" stroke-width="1.0" />
<text x="34.90" y="343.61" font-size="8.20" text-anchor="end" >80</text>
<line x1="37.30" y1="352.50" x2="40.50" y2="352.50" stroke="#1a1a1a" stroke-width="1.0" />
<text x="34.90" y="355.61" font-size="8.20" text-anchor="end" >60</text>
<line x1="37.30" y1="364.50" x2="40.50" y2="364.50" stroke="#1a1a1a" stroke-width="1.0" />
<text x="34.90" y="367.41" font-size="8.20" text-anchor="end" >40</text>
<line x1="37.30" y1="376.50" x2="40.50" y2="376.50" stroke="#1a1a1a" stroke-width="1.0" />
<text x="34.90" y="379.11" font-size="8.20" text-anchor="end" >20</text>
<line x1="37.30" y1="387.50" x2="40.50" y2="387.50" stroke="#1a1a1a" stroke-width="1.0" />
<text x="34.90" y="390.81" font-size="8.20" text-anchor="end" >0</text>
<line x1="55.80" y1="388.10" x2="55.80" y2="390.70" stroke="#1a1a1a" stroke-width="1.0" />
<text x="55.80" y="400.00" font-size="8.40" text-anchor="middle" >1</text>
<line x1="79.20" y1="388.10" x2="79.20" y2="390.70" stroke="#1a1a1a" stroke-width="1.0" />
<text x="79.20" y="400.00" font-size="8.40" text-anchor="middle" >2</text>
<line x1="102.90" y1="388.10" x2="102.90" y2="390.70" stroke="#1a1a1a" stroke-width="1.0" />
<text x="102.90" y="400.00" font-size="8.40" text-anchor="middle" >3</text>
<text x="79.80" y="411.10" font-size="9.40" text-anchor="middle" textLength="65.80" lengthAdjust="spacingAndGlyphs" >Days post transplant</text>
<line x1="55.80" y1="378.00" x2="55.80" y2="383.30" stroke="#3f6fa8" stroke-width="0.9" />
<line x1="53.60" y1="378.00" x2="58.00" y2="378.00" stroke="#3f6fa8" stroke-width="0.9" />
<line x1="53.60" y1="383.30" x2="58.00" y2="383.30" stroke="#3f6fa8" stroke-width="0.9" />
<line x1="55.80" y1="377.90" x2="55.80" y2="383.60" stroke="#d64c68" stroke-width="0.9" />
<line x1="53.60" y1="377.90" x2="58.00" y2="377.90" stroke="#d64c68" stroke-width="0.9" />
<line x1="53.60" y1="383.60" x2="58.00" y2="383.60" stroke="#d64c68" stroke-width="0.9" />
<line x1="79.20" y1="340.30" x2="79.20" y2="363.20" stroke="#3f6fa8" stroke-width="0.9" />
<line x1="77.00" y1="340.30" x2="81.40" y2="340.30" stroke="#3f6fa8" stroke-width="0.9" />
<line x1="77.00" y1="363.20" x2="81.40" y2="363.20" stroke="#3f6fa8" stroke-width="0.9" />
<line x1="79.20" y1="354.20" x2="79.20" y2="363.20" stroke="#d64c68" stroke-width="0.9" />
<line x1="77.00" y1="354.20" x2="81.40" y2="354.20" stroke="#d64c68" stroke-width="0.9" />
<line x1="77.00" y1="363.20" x2="81.40" y2="363.20" stroke="#d64c68" stroke-width="0.9" />
<line x1="102.90" y1="367.60" x2="102.90" y2="376.30" stroke="#3f6fa8" stroke-width="0.9" />
<line x1="100.70" y1="367.60" x2="105.10" y2="367.60" stroke="#3f6fa8" stroke-width="0.9" />
<line x1="100.70" y1="376.30" x2="105.10" y2="376.30" stroke="#3f6fa8" stroke-width="0.9" />
<line x1="102.90" y1="377.90" x2="102.90" y2="383.60" stroke="#d64c68" stroke-width="0.9" />
<line x1="100.70" y1="377.90" x2="105.10" y2="377.90" stroke="#d64c68" stroke-width="0.9" />
<line x1="100.70" y1="383.60" x2="105.10" y2="383.60" stroke="#d64c68" stroke-width="0.9" />
<polyline points="55.80,380.40 79.20,352.30 102.90,371.90" fill="none" stroke="#124a88" stroke-width="1.5" stroke-linejoin="round"/>
<polyline points="55.80,381.20 79.20,358.30 102.90,381.20" fill="none" stroke="#cb1235" stroke-width="1.5" stroke-linejoin="round"/>
<circle cx="55.80" cy="380.40" r="1.90" fill="#124a88"/>
<circle cx="79.20" cy="352.30" r="1.90" fill="#124a88"/>
<circle cx="102.90" cy="371.90" r="1.90" fill="#124a88"/>
<rect x="54.10" y="379.50" width="3.40" height="3.40" fill="#cb1235" stroke="none" stroke-width="0.8" />
<rect x="77.50" y="356.60" width="3.40" height="3.40" fill="#cb1235" stroke="none" stroke-width="0.8" />
<rect x="101.20" y="379.50" width="3.40" height="3.40" fill="#cb1235" stroke="none" stroke-width="0.8" />
<text x="102.90" y="367.20" font-size="9.30" text-anchor="middle" >***</text>
<text x="16.75" y="358.20" font-size="10.00" text-anchor="middle" textLength="45.70" lengthAdjust="spacingAndGlyphs" transform="rotate(-90 16.75 358.20)" fill="#1a1a1a">% CD4<tspan dx="0.50" dy="-3.10" font-size="5.20">+</tspan><tspan dx="0.50" dy="3.10"> T cells</tspan></text>
<text x="140.40" y="324.60" font-size="11.00" font-weight="bold" fill="#000" style="stroke:#000;stroke-width:0.35px">G</text>
<text x="208.60" y="324.80" font-size="9.90" text-anchor="middle" textLength="48.50" lengthAdjust="spacingAndGlyphs" >CD4<tspan dx="0.50" dy="-3.07" font-size="5.15">+</tspan><tspan dx="0.50" dy="3.07"> CD25<tspan dx="0.50" dy="-3.07" font-size="5.15">+</tspan><tspan dx="0.50" dy="3.07"></tspan></tspan></text>
<line x1="171.50" y1="328.00" x2="171.50" y2="388.40" stroke="#1a1a1a" stroke-width="1.1" />
<line x1="168.30" y1="328.50" x2="171.50" y2="328.50" stroke="#1a1a1a" stroke-width="1.0" />
<text x="165.60" y="331.31" font-size="8.20" text-anchor="end" >80</text>
<line x1="168.30" y1="343.50" x2="171.50" y2="343.50" stroke="#1a1a1a" stroke-width="1.0" />
<text x="165.60" y="346.01" font-size="8.20" text-anchor="end" >60</text>
<line x1="168.30" y1="357.50" x2="171.50" y2="357.50" stroke="#1a1a1a" stroke-width="1.0" />
<text x="165.60" y="360.81" font-size="8.20" text-anchor="end" >40</text>
<line x1="168.30" y1="372.50" x2="171.50" y2="372.50" stroke="#1a1a1a" stroke-width="1.0" />
<text x="165.60" y="375.81" font-size="8.20" text-anchor="end" >20</text>
<line x1="168.30" y1="387.50" x2="171.50" y2="387.50" stroke="#1a1a1a" stroke-width="1.0" />
<text x="165.60" y="390.81" font-size="8.20" text-anchor="end" >0</text>
<line x1="186.70" y1="388.10" x2="186.70" y2="390.70" stroke="#1a1a1a" stroke-width="1.0" />
<text x="186.70" y="400.00" font-size="8.40" text-anchor="middle" >1</text>
<line x1="210.50" y1="388.10" x2="210.50" y2="390.70" stroke="#1a1a1a" stroke-width="1.0" />
<text x="210.50" y="400.00" font-size="8.40" text-anchor="middle" >2</text>
<line x1="234.50" y1="388.10" x2="234.50" y2="390.70" stroke="#1a1a1a" stroke-width="1.0" />
<text x="234.50" y="400.00" font-size="8.40" text-anchor="middle" >3</text>
<text x="210.60" y="411.10" font-size="9.40" text-anchor="middle" textLength="66.20" lengthAdjust="spacingAndGlyphs" >Days post transplant</text>
<line x1="186.70" y1="370.60" x2="186.70" y2="380.00" stroke="#3f6fa8" stroke-width="0.9" />
<line x1="184.50" y1="370.60" x2="188.90" y2="370.60" stroke="#3f6fa8" stroke-width="0.9" />
<line x1="184.50" y1="380.00" x2="188.90" y2="380.00" stroke="#3f6fa8" stroke-width="0.9" />
<line x1="186.70" y1="368.60" x2="186.70" y2="379.50" stroke="#d64c68" stroke-width="0.9" />
<line x1="184.50" y1="368.60" x2="188.90" y2="368.60" stroke="#d64c68" stroke-width="0.9" />
<line x1="184.50" y1="379.50" x2="188.90" y2="379.50" stroke="#d64c68" stroke-width="0.9" />
<line x1="210.50" y1="367.00" x2="210.50" y2="375.10" stroke="#3f6fa8" stroke-width="0.9" />
<line x1="208.30" y1="367.00" x2="212.70" y2="367.00" stroke="#3f6fa8" stroke-width="0.9" />
<line x1="208.30" y1="375.10" x2="212.70" y2="375.10" stroke="#3f6fa8" stroke-width="0.9" />
<line x1="210.50" y1="367.50" x2="210.50" y2="375.50" stroke="#d64c68" stroke-width="0.9" />
<line x1="208.30" y1="367.50" x2="212.70" y2="367.50" stroke="#d64c68" stroke-width="0.9" />
<line x1="208.30" y1="375.50" x2="212.70" y2="375.50" stroke="#d64c68" stroke-width="0.9" />
<line x1="234.50" y1="339.80" x2="234.50" y2="345.20" stroke="#3f6fa8" stroke-width="0.9" />
<line x1="232.30" y1="339.80" x2="236.70" y2="339.80" stroke="#3f6fa8" stroke-width="0.9" />
<line x1="232.30" y1="345.20" x2="236.70" y2="345.20" stroke="#3f6fa8" stroke-width="0.9" />
<line x1="234.50" y1="342.50" x2="234.50" y2="356.20" stroke="#d64c68" stroke-width="0.9" />
<line x1="232.30" y1="342.50" x2="236.70" y2="342.50" stroke="#d64c68" stroke-width="0.9" />
<line x1="232.30" y1="356.20" x2="236.70" y2="356.20" stroke="#d64c68" stroke-width="0.9" />
<polyline points="186.70,375.50 210.50,370.90 234.50,342.00" fill="none" stroke="#124a88" stroke-width="1.5" stroke-linejoin="round"/>
<polyline points="186.70,373.80 210.50,371.90 234.50,348.50" fill="none" stroke="#cb1235" stroke-width="1.5" stroke-linejoin="round"/>
<circle cx="186.70" cy="375.50" r="1.90" fill="#124a88"/>
<circle cx="210.50" cy="370.90" r="1.90" fill="#124a88"/>
<circle cx="234.50" cy="342.00" r="1.90" fill="#124a88"/>
<rect x="185.00" y="372.10" width="3.40" height="3.40" fill="#cb1235" stroke="none" stroke-width="0.8" />
<rect x="208.80" y="370.20" width="3.40" height="3.40" fill="#cb1235" stroke="none" stroke-width="0.8" />
<rect x="232.80" y="346.80" width="3.40" height="3.40" fill="#cb1235" stroke="none" stroke-width="0.8" />
<text x="234.50" y="339.80" font-size="9.30" text-anchor="middle" >**</text>
<text x="151.25" y="357.90" font-size="10.00" text-anchor="middle" textLength="46.40" lengthAdjust="spacingAndGlyphs" transform="rotate(-90 151.25 357.90)" fill="#1a1a1a">% CD4<tspan dx="0.50" dy="-3.10" font-size="5.20">+</tspan><tspan dx="0.50" dy="3.10"> T cells</tspan></text>
<text x="262.20" y="324.60" font-size="11.00" font-weight="bold" fill="#000" style="stroke:#000;stroke-width:0.35px">H</text>
<text x="333.20" y="324.80" font-size="9.90" text-anchor="middle" textLength="49.50" lengthAdjust="spacingAndGlyphs" >CD4<tspan dx="0.50" dy="-3.07" font-size="5.15">+</tspan><tspan dx="0.50" dy="3.07"> PD-1<tspan dx="0.50" dy="-3.07" font-size="5.15">+</tspan><tspan dx="0.50" dy="3.07"></tspan></tspan></text>
<line x1="293.50" y1="327.00" x2="293.50" y2="388.40" stroke="#1a1a1a" stroke-width="1.1" />
<line x1="290.30" y1="327.50" x2="293.50" y2="327.50" stroke="#1a1a1a" stroke-width="1.0" />
<text x="287.40" y="330.81" font-size="8.20" text-anchor="end" >80</text>
<line x1="290.30" y1="342.50" x2="293.50" y2="342.50" stroke="#1a1a1a" stroke-width="1.0" />
<text x="287.40" y="345.71" font-size="8.20" text-anchor="end" >60</text>
<line x1="290.30" y1="357.50" x2="293.50" y2="357.50" stroke="#1a1a1a" stroke-width="1.0" />
<text x="287.40" y="360.81" font-size="8.20" text-anchor="end" >40</text>
<line x1="290.30" y1="372.50" x2="293.50" y2="372.50" stroke="#1a1a1a" stroke-width="1.0" />
<text x="287.40" y="375.61" font-size="8.20" text-anchor="end" >20</text>
<line x1="290.30" y1="387.50" x2="293.50" y2="387.50" stroke="#1a1a1a" stroke-width="1.0" />
<text x="287.40" y="390.81" font-size="8.20" text-anchor="end" >0</text>
<line x1="309.40" y1="388.10" x2="309.40" y2="390.70" stroke="#1a1a1a" stroke-width="1.0" />
<text x="309.40" y="400.00" font-size="8.40" text-anchor="middle" >1</text>
<line x1="333.40" y1="388.10" x2="333.40" y2="390.70" stroke="#1a1a1a" stroke-width="1.0" />
<text x="333.40" y="400.00" font-size="8.40" text-anchor="middle" >2</text>
<line x1="357.10" y1="388.10" x2="357.10" y2="390.70" stroke="#1a1a1a" stroke-width="1.0" />
<text x="357.10" y="400.00" font-size="8.40" text-anchor="middle" >3</text>
<text x="333.30" y="411.10" font-size="9.40" text-anchor="middle" textLength="66.00" lengthAdjust="spacingAndGlyphs" >Days post transplant</text>
<line x1="309.40" y1="367.00" x2="309.40" y2="376.50" stroke="#3f6fa8" stroke-width="0.9" />
<line x1="307.20" y1="367.00" x2="311.60" y2="367.00" stroke="#3f6fa8" stroke-width="0.9" />
<line x1="307.20" y1="376.50" x2="311.60" y2="376.50" stroke="#3f6fa8" stroke-width="0.9" />
<line x1="309.40" y1="365.70" x2="309.40" y2="377.40" stroke="#d64c68" stroke-width="0.9" />
<line x1="307.20" y1="365.70" x2="311.60" y2="365.70" stroke="#d64c68" stroke-width="0.9" />
<line x1="307.20" y1="377.40" x2="311.60" y2="377.40" stroke="#d64c68" stroke-width="0.9" />
<line x1="333.40" y1="340.30" x2="333.40" y2="370.20" stroke="#3f6fa8" stroke-width="0.9" />
<line x1="331.20" y1="340.30" x2="335.60" y2="340.30" stroke="#3f6fa8" stroke-width="0.9" />
<line x1="331.20" y1="370.20" x2="335.60" y2="370.20" stroke="#3f6fa8" stroke-width="0.9" />
<line x1="333.40" y1="360.80" x2="333.40" y2="370.20" stroke="#d64c68" stroke-width="0.9" />
<line x1="331.20" y1="360.80" x2="335.60" y2="360.80" stroke="#d64c68" stroke-width="0.9" />
<line x1="331.20" y1="370.20" x2="335.60" y2="370.20" stroke="#d64c68" stroke-width="0.9" />
<line x1="357.10" y1="347.40" x2="357.10" y2="356.70" stroke="#3f6fa8" stroke-width="0.9" />
<line x1="354.90" y1="347.40" x2="359.30" y2="347.40" stroke="#3f6fa8" stroke-width="0.9" />
<line x1="354.90" y1="356.70" x2="359.30" y2="356.70" stroke="#3f6fa8" stroke-width="0.9" />
<line x1="357.10" y1="357.20" x2="357.10" y2="365.30" stroke="#d64c68" stroke-width="0.9" />
<line x1="354.90" y1="357.20" x2="359.30" y2="357.20" stroke="#d64c68" stroke-width="0.9" />
<line x1="354.90" y1="365.30" x2="359.30" y2="365.30" stroke="#d64c68" stroke-width="0.9" />
<polyline points="309.40,372.50 333.40,355.00 357.10,352.30" fill="none" stroke="#124a88" stroke-width="1.5" stroke-linejoin="round"/>
<polyline points="309.40,371.40 333.40,364.30 357.10,359.40" fill="none" stroke="#cb1235" stroke-width="1.5" stroke-linejoin="round"/>
<circle cx="309.40" cy="372.50" r="1.90" fill="#124a88"/>
<circle cx="333.40" cy="355.00" r="1.90" fill="#124a88"/>
<circle cx="357.10" cy="352.30" r="1.90" fill="#124a88"/>
<rect x="307.70" y="369.70" width="3.40" height="3.40" fill="#cb1235" stroke="none" stroke-width="0.8" />
<rect x="331.70" y="362.60" width="3.40" height="3.40" fill="#cb1235" stroke="none" stroke-width="0.8" />
<rect x="355.40" y="357.70" width="3.40" height="3.40" fill="#cb1235" stroke="none" stroke-width="0.8" />
<text x="357.50" y="347.20" font-size="9.30" text-anchor="middle" >**</text>
<text x="273.15" y="357.50" font-size="10.00" text-anchor="middle" textLength="47.10" lengthAdjust="spacingAndGlyphs" transform="rotate(-90 273.15 357.50)" fill="#1a1a1a">% CD4<tspan dx="0.50" dy="-3.10" font-size="5.20">+</tspan><tspan dx="0.50" dy="3.10"> T cells</tspan></text>
<text x="79.20" y="428.10" font-size="9.90" text-anchor="middle" textLength="62.10" lengthAdjust="spacingAndGlyphs" >CD8<tspan dx="0.50" dy="-3.07" font-size="5.15">+</tspan><tspan dx="0.50" dy="3.07"> LPAM-1<tspan dx="0.50" dy="-3.07" font-size="5.15">+</tspan><tspan dx="0.50" dy="3.07"></tspan></tspan></text>
<line x1="40.50" y1="432.00" x2="40.50" y2="491.60" stroke="#1a1a1a" stroke-width="1.1" />
<line x1="37.30" y1="432.50" x2="40.50" y2="432.50" stroke="#1a1a1a" stroke-width="1.0" />
<text x="34.30" y="435.31" font-size="8.20" text-anchor="end" >60</text>
<line x1="37.30" y1="451.50" x2="40.50" y2="451.50" stroke="#1a1a1a" stroke-width="1.0" />
<text x="34.30" y="454.81" font-size="8.20" text-anchor="end" >40</text>
<line x1="37.30" y1="471.50" x2="40.50" y2="471.50" stroke="#1a1a1a" stroke-width="1.0" />
<text x="34.30" y="474.31" font-size="8.20" text-anchor="end" >20</text>
<line x1="37.30" y1="491.50" x2="40.50" y2="491.50" stroke="#1a1a1a" stroke-width="1.0" />
<text x="34.30" y="494.01" font-size="8.20" text-anchor="end" >0</text>
<line x1="55.80" y1="490.80" x2="55.80" y2="493.40" stroke="#1a1a1a" stroke-width="1.0" />
<text x="55.80" y="502.00" font-size="8.40" text-anchor="middle" >1</text>
<line x1="79.20" y1="490.80" x2="79.20" y2="493.40" stroke="#1a1a1a" stroke-width="1.0" />
<text x="79.20" y="502.00" font-size="8.40" text-anchor="middle" >2</text>
<line x1="102.90" y1="490.80" x2="102.90" y2="493.40" stroke="#1a1a1a" stroke-width="1.0" />
<text x="102.90" y="502.00" font-size="8.40" text-anchor="middle" >3</text>
<text x="79.80" y="513.50" font-size="9.40" text-anchor="middle" textLength="65.80" lengthAdjust="spacingAndGlyphs" >Days post transplant</text>
<line x1="55.80" y1="459.40" x2="55.80" y2="469.00" stroke="#3f6fa8" stroke-width="0.9" />
<line x1="53.60" y1="459.40" x2="58.00" y2="459.40" stroke="#3f6fa8" stroke-width="0.9" />
<line x1="53.60" y1="469.00" x2="58.00" y2="469.00" stroke="#3f6fa8" stroke-width="0.9" />
<line x1="55.80" y1="460.40" x2="55.80" y2="477.10" stroke="#d64c68" stroke-width="0.9" />
<line x1="53.60" y1="460.40" x2="58.00" y2="460.40" stroke="#d64c68" stroke-width="0.9" />
<line x1="53.60" y1="477.10" x2="58.00" y2="477.10" stroke="#d64c68" stroke-width="0.9" />
<line x1="79.20" y1="484.00" x2="79.20" y2="487.50" stroke="#3f6fa8" stroke-width="0.9" />
<line x1="77.00" y1="484.00" x2="81.40" y2="484.00" stroke="#3f6fa8" stroke-width="0.9" />
<line x1="77.00" y1="487.50" x2="81.40" y2="487.50" stroke="#3f6fa8" stroke-width="0.9" />
<line x1="79.20" y1="485.00" x2="79.20" y2="488.50" stroke="#d64c68" stroke-width="0.9" />
<line x1="77.00" y1="485.00" x2="81.40" y2="485.00" stroke="#d64c68" stroke-width="0.9" />
<line x1="77.00" y1="488.50" x2="81.40" y2="488.50" stroke="#d64c68" stroke-width="0.9" />
<line x1="102.90" y1="442.50" x2="102.90" y2="451.80" stroke="#3f6fa8" stroke-width="0.9" />
<line x1="100.70" y1="442.50" x2="105.10" y2="442.50" stroke="#3f6fa8" stroke-width="0.9" />
<line x1="100.70" y1="451.80" x2="105.10" y2="451.80" stroke="#3f6fa8" stroke-width="0.9" />
<line x1="102.90" y1="455.00" x2="102.90" y2="473.80" stroke="#d64c68" stroke-width="0.9" />
<line x1="100.70" y1="455.00" x2="105.10" y2="455.00" stroke="#d64c68" stroke-width="0.9" />
<line x1="100.70" y1="473.80" x2="105.10" y2="473.80" stroke="#d64c68" stroke-width="0.9" />
<polyline points="55.80,464.30 79.20,485.60 102.90,446.90" fill="none" stroke="#124a88" stroke-width="1.5" stroke-linejoin="round"/>
<polyline points="55.80,468.60 79.20,486.90 102.90,464.80" fill="none" stroke="#cb1235" stroke-width="1.5" stroke-linejoin="round"/>
<circle cx="55.80" cy="464.30" r="1.90" fill="#124a88"/>
<circle cx="79.20" cy="485.60" r="1.90" fill="#124a88"/>
<circle cx="102.90" cy="446.90" r="1.90" fill="#124a88"/>
<rect x="54.10" y="466.90" width="3.40" height="3.40" fill="#cb1235" stroke="none" stroke-width="0.8" />
<rect x="77.50" y="485.20" width="3.40" height="3.40" fill="#cb1235" stroke="none" stroke-width="0.8" />
<rect x="101.20" y="463.10" width="3.40" height="3.40" fill="#cb1235" stroke="none" stroke-width="0.8" />
<text x="102.90" y="443.80" font-size="9.30" text-anchor="middle" >***</text>
<text x="19.55" y="461.20" font-size="10.00" text-anchor="middle" textLength="46.50" lengthAdjust="spacingAndGlyphs" transform="rotate(-90 19.55 461.20)" fill="#1a1a1a">% CD8<tspan dx="0.50" dy="-3.10" font-size="5.20">+</tspan><tspan dx="0.50" dy="3.10"> T cells</tspan></text>
<text x="209.00" y="428.10" font-size="9.90" text-anchor="middle" textLength="48.70" lengthAdjust="spacingAndGlyphs" >CD8<tspan dx="0.50" dy="-3.07" font-size="5.15">+</tspan><tspan dx="0.50" dy="3.07"> CD25<tspan dx="0.50" dy="-3.07" font-size="5.15">+</tspan><tspan dx="0.50" dy="3.07"></tspan></tspan></text>
<line x1="170.50" y1="431.00" x2="170.50" y2="491.60" stroke="#1a1a1a" stroke-width="1.1" />
<line x1="167.30" y1="431.50" x2="170.50" y2="431.50" stroke="#1a1a1a" stroke-width="1.0" />
<text x="164.70" y="433.91" font-size="8.20" text-anchor="end" >80</text>
<line x1="167.30" y1="446.50" x2="170.50" y2="446.50" stroke="#1a1a1a" stroke-width="1.0" />
<text x="164.70" y="448.91" font-size="8.20" text-anchor="end" >60</text>
<line x1="167.30" y1="461.50" x2="170.50" y2="461.50" stroke="#1a1a1a" stroke-width="1.0" />
<text x="164.70" y="464.01" font-size="8.20" text-anchor="end" >40</text>
<line x1="167.30" y1="475.50" x2="170.50" y2="475.50" stroke="#1a1a1a" stroke-width="1.0" />
<text x="164.70" y="478.81" font-size="8.20" text-anchor="end" >20</text>
<line x1="167.30" y1="491.50" x2="170.50" y2="491.50" stroke="#1a1a1a" stroke-width="1.0" />
<text x="164.70" y="494.01" font-size="8.20" text-anchor="end" >0</text>
<line x1="186.80" y1="490.80" x2="186.80" y2="493.40" stroke="#1a1a1a" stroke-width="1.0" />
<text x="186.80" y="502.00" font-size="8.40" text-anchor="middle" >1</text>
<line x1="210.80" y1="490.80" x2="210.80" y2="493.40" stroke="#1a1a1a" stroke-width="1.0" />
<text x="210.80" y="502.00" font-size="8.40" text-anchor="middle" >2</text>
<line x1="234.90" y1="490.80" x2="234.90" y2="493.40" stroke="#1a1a1a" stroke-width="1.0" />
<text x="234.90" y="502.00" font-size="8.40" text-anchor="middle" >3</text>
<text x="211.00" y="513.50" font-size="9.40" text-anchor="middle" textLength="66.50" lengthAdjust="spacingAndGlyphs" >Days post transplant</text>
<line x1="186.80" y1="476.30" x2="186.80" y2="490.50" stroke="#3f6fa8" stroke-width="0.9" />
<line x1="184.60" y1="476.30" x2="189.00" y2="476.30" stroke="#3f6fa8" stroke-width="0.9" />
<line x1="184.60" y1="490.50" x2="189.00" y2="490.50" stroke="#3f6fa8" stroke-width="0.9" />
<line x1="186.80" y1="476.30" x2="186.80" y2="490.50" stroke="#d64c68" stroke-width="0.9" />
<line x1="184.60" y1="476.30" x2="189.00" y2="476.30" stroke="#d64c68" stroke-width="0.9" />
<line x1="184.60" y1="490.50" x2="189.00" y2="490.50" stroke="#d64c68" stroke-width="0.9" />
<line x1="210.80" y1="482.00" x2="210.80" y2="486.90" stroke="#3f6fa8" stroke-width="0.9" />
<line x1="208.60" y1="482.00" x2="213.00" y2="482.00" stroke="#3f6fa8" stroke-width="0.9" />
<line x1="208.60" y1="486.90" x2="213.00" y2="486.90" stroke="#3f6fa8" stroke-width="0.9" />
<line x1="210.80" y1="481.50" x2="210.80" y2="486.50" stroke="#d64c68" stroke-width="0.9" />
<line x1="208.60" y1="481.50" x2="213.00" y2="481.50" stroke="#d64c68" stroke-width="0.9" />
<line x1="208.60" y1="486.50" x2="213.00" y2="486.50" stroke="#d64c68" stroke-width="0.9" />
<line x1="234.90" y1="450.10" x2="234.90" y2="456.70" stroke="#3f6fa8" stroke-width="0.9" />
<line x1="232.70" y1="450.10" x2="237.10" y2="450.10" stroke="#3f6fa8" stroke-width="0.9" />
<line x1="232.70" y1="456.70" x2="237.10" y2="456.70" stroke="#3f6fa8" stroke-width="0.9" />
<line x1="234.90" y1="455.00" x2="234.90" y2="470.90" stroke="#d64c68" stroke-width="0.9" />
<line x1="232.70" y1="455.00" x2="237.10" y2="455.00" stroke="#d64c68" stroke-width="0.9" />
<line x1="232.70" y1="470.90" x2="237.10" y2="470.90" stroke="#d64c68" stroke-width="0.9" />
<polyline points="186.80,482.30 210.80,485.30 234.90,453.40" fill="none" stroke="#124a88" stroke-width="1.5" stroke-linejoin="round"/>
<polyline points="186.80,482.80 210.80,483.60 234.90,462.40" fill="none" stroke="#cb1235" stroke-width="1.5" stroke-linejoin="round"/>
<circle cx="186.80" cy="482.30" r="1.90" fill="#124a88"/>
<circle cx="210.80" cy="485.30" r="1.90" fill="#124a88"/>
<circle cx="234.90" cy="453.40" r="1.90" fill="#124a88"/>
<rect x="185.10" y="481.10" width="3.40" height="3.40" fill="#cb1235" stroke="none" stroke-width="0.8" />
<rect x="209.10" y="481.90" width="3.40" height="3.40" fill="#cb1235" stroke="none" stroke-width="0.8" />
<rect x="233.20" y="460.70" width="3.40" height="3.40" fill="#cb1235" stroke="none" stroke-width="0.8" />
<text x="234.90" y="450.40" font-size="9.30" text-anchor="middle" >*</text>
<text x="151.05" y="460.80" font-size="10.00" text-anchor="middle" textLength="47.20" lengthAdjust="spacingAndGlyphs" transform="rotate(-90 151.05 460.80)" fill="#1a1a1a">% CD8<tspan dx="0.50" dy="-3.10" font-size="5.20">+</tspan><tspan dx="0.50" dy="3.10"> T cells</tspan></text>
<text x="332.80" y="428.10" font-size="9.90" text-anchor="middle" textLength="50.20" lengthAdjust="spacingAndGlyphs" >CD8<tspan dx="0.50" dy="-3.07" font-size="5.15">+</tspan><tspan dx="0.50" dy="3.07"> PD-1<tspan dx="0.50" dy="-3.07" font-size="5.15">+</tspan><tspan dx="0.50" dy="3.07"></tspan></tspan></text>
<line x1="293.50" y1="431.00" x2="293.50" y2="491.60" stroke="#1a1a1a" stroke-width="1.1" />
<line x1="290.30" y1="431.50" x2="293.50" y2="431.50" stroke="#1a1a1a" stroke-width="1.0" />
<text x="287.20" y="433.91" font-size="8.20" text-anchor="end" >80</text>
<line x1="290.30" y1="446.50" x2="293.50" y2="446.50" stroke="#1a1a1a" stroke-width="1.0" />
<text x="287.20" y="448.91" font-size="8.20" text-anchor="end" >60</text>
<line x1="290.30" y1="461.50" x2="293.50" y2="461.50" stroke="#1a1a1a" stroke-width="1.0" />
<text x="287.20" y="464.01" font-size="8.20" text-anchor="end" >40</text>
<line x1="290.30" y1="475.50" x2="293.50" y2="475.50" stroke="#1a1a1a" stroke-width="1.0" />
<text x="287.20" y="478.81" font-size="8.20" text-anchor="end" >20</text>
<line x1="290.30" y1="491.50" x2="293.50" y2="491.50" stroke="#1a1a1a" stroke-width="1.0" />
<text x="287.20" y="494.01" font-size="8.20" text-anchor="end" >0</text>
<line x1="308.90" y1="490.80" x2="308.90" y2="493.40" stroke="#1a1a1a" stroke-width="1.0" />
<text x="308.90" y="502.30" font-size="8.40" text-anchor="middle" >1</text>
<line x1="332.60" y1="490.80" x2="332.60" y2="493.40" stroke="#1a1a1a" stroke-width="1.0" />
<text x="332.60" y="502.30" font-size="8.40" text-anchor="middle" >2</text>
<line x1="356.30" y1="490.80" x2="356.30" y2="493.40" stroke="#1a1a1a" stroke-width="1.0" />
<text x="356.30" y="502.30" font-size="8.40" text-anchor="middle" >3</text>
<text x="333.00" y="513.90" font-size="9.40" text-anchor="middle" textLength="66.20" lengthAdjust="spacingAndGlyphs" >Days post transplant</text>
<line x1="308.90" y1="477.40" x2="308.90" y2="485.60" stroke="#3f6fa8" stroke-width="0.9" />
<line x1="306.70" y1="477.40" x2="311.10" y2="477.40" stroke="#3f6fa8" stroke-width="0.9" />
<line x1="306.70" y1="485.60" x2="311.10" y2="485.60" stroke="#3f6fa8" stroke-width="0.9" />
<line x1="308.90" y1="477.40" x2="308.90" y2="485.60" stroke="#d64c68" stroke-width="0.9" />
<line x1="306.70" y1="477.40" x2="311.10" y2="477.40" stroke="#d64c68" stroke-width="0.9" />
<line x1="306.70" y1="485.60" x2="311.10" y2="485.60" stroke="#d64c68" stroke-width="0.9" />
<line x1="332.60" y1="480.00" x2="332.60" y2="484.50" stroke="#3f6fa8" stroke-width="0.9" />
<line x1="330.40" y1="480.00" x2="334.80" y2="480.00" stroke="#3f6fa8" stroke-width="0.9" />
<line x1="330.40" y1="484.50" x2="334.80" y2="484.50" stroke="#3f6fa8" stroke-width="0.9" />
<line x1="332.60" y1="479.50" x2="332.60" y2="483.60" stroke="#d64c68" stroke-width="0.9" />
<line x1="330.40" y1="479.50" x2="334.80" y2="479.50" stroke="#d64c68" stroke-width="0.9" />
<line x1="330.40" y1="483.60" x2="334.80" y2="483.60" stroke="#d64c68" stroke-width="0.9" />
<line x1="356.30" y1="449.30" x2="356.30" y2="459.40" stroke="#3f6fa8" stroke-width="0.9" />
<line x1="354.10" y1="449.30" x2="358.50" y2="449.30" stroke="#3f6fa8" stroke-width="0.9" />
<line x1="354.10" y1="459.40" x2="358.50" y2="459.40" stroke="#3f6fa8" stroke-width="0.9" />
<line x1="356.30" y1="460.80" x2="356.30" y2="470.60" stroke="#d64c68" stroke-width="0.9" />
<line x1="354.10" y1="460.80" x2="358.50" y2="460.80" stroke="#d64c68" stroke-width="0.9" />
<line x1="354.10" y1="470.60" x2="358.50" y2="470.60" stroke="#d64c68" stroke-width="0.9" />
<polyline points="308.90,482.00 332.60,483.30 356.30,455.00" fill="none" stroke="#124a88" stroke-width="1.5" stroke-linejoin="round"/>
<polyline points="308.90,481.20 332.60,481.70 356.30,465.70" fill="none" stroke="#cb1235" stroke-width="1.5" stroke-linejoin="round"/>
<circle cx="308.90" cy="482.00" r="1.90" fill="#124a88"/>
<circle cx="332.60" cy="483.30" r="1.90" fill="#124a88"/>
<circle cx="356.30" cy="455.00" r="1.90" fill="#124a88"/>
<rect x="307.20" y="479.50" width="3.40" height="3.40" fill="#cb1235" stroke="none" stroke-width="0.8" />
<rect x="330.90" y="480.00" width="3.40" height="3.40" fill="#cb1235" stroke="none" stroke-width="0.8" />
<rect x="354.60" y="464.00" width="3.40" height="3.40" fill="#cb1235" stroke="none" stroke-width="0.8" />
<text x="356.90" y="450.40" font-size="9.30" text-anchor="middle" >**</text>
<text x="273.35" y="460.50" font-size="10.00" text-anchor="middle" textLength="46.50" lengthAdjust="spacingAndGlyphs" transform="rotate(-90 273.35 460.50)" fill="#1a1a1a">% CD8<tspan dx="0.50" dy="-3.10" font-size="5.20">+</tspan><tspan dx="0.50" dy="3.10"> T cells</tspan></text>
<text x="387.20" y="323.70" font-size="11.00" font-weight="bold" fill="#000" style="stroke:#000;stroke-width:0.35px">I</text>
<path d="M431.80,353.30 C428.85,345.08 425.61,340.76 425.90,338.60 A5.90,5.40 0 0 1 437.70,338.60 C438.00,340.76 434.75,345.08 431.80,353.30 Z" fill="none" stroke="#000" stroke-width="0.6" />
<ellipse cx="431.7" cy="340.6" rx="4.0" ry="4.6" fill="none" stroke="#000" stroke-width="0.55"/>
<ellipse cx="431.6" cy="340.4" rx="2.2" ry="2.4" fill="none" stroke="#000" stroke-width="0.7"/>
<circle cx="431.60" cy="340.30" r="0.90" fill="#000"/>
<circle cx="431.60" cy="340.30" r="0.35" fill="#fff"/>
<path d="M424.30,371.50 C424.30,369.72 424.58,367.95 425.20,366.50 C425.82,365.05 426.95,363.62 428.00,362.80 C429.05,361.98 430.67,362.03 431.50,361.60 C432.33,361.17 432.42,360.25 433.00,360.20 C433.58,360.15 434.08,360.97 435.00,361.30 C435.92,361.63 436.92,361.88 438.50,362.20 C440.08,362.52 442.75,362.70 444.50,363.20 C446.25,363.70 447.85,364.27 449.00,365.20 C450.15,366.13 451.10,367.53 451.40,368.80 C451.70,370.07 451.45,371.67 450.80,372.80 C450.15,373.93 449.13,374.80 447.50,375.60 C445.87,376.40 443.17,376.93 441.00,377.60 C438.83,378.27 436.58,379.22 434.50,379.60 C432.42,379.98 430.05,380.30 428.50,379.90 C426.95,379.50 425.90,378.60 425.20,377.20 C424.50,375.80 424.30,373.28 424.30,371.50 Z" fill="none" stroke="#000" stroke-width="0.6" />
<path d="M424.64,371.60 C424.64,369.93 424.91,368.26 425.49,366.90 C426.07,365.54 427.13,364.19 428.12,363.42 C429.11,362.66 430.63,362.70 431.41,362.30 C432.19,361.89 432.27,361.03 432.82,360.98 C433.37,360.93 433.84,361.70 434.70,362.01 C435.56,362.33 436.50,362.56 437.99,362.86 C439.48,363.16 441.99,363.33 443.63,363.80 C445.27,364.27 446.78,364.80 447.86,365.68 C448.94,366.56 449.83,367.87 450.12,369.06 C450.40,370.25 450.16,371.76 449.55,372.82 C448.94,373.89 447.99,374.70 446.45,375.46 C444.91,376.21 442.38,376.71 440.34,377.34 C438.30,377.96 436.19,378.86 434.23,379.22 C432.27,379.58 430.05,379.87 428.59,379.50 C427.13,379.12 426.15,378.28 425.49,376.96 C424.83,375.64 424.64,373.28 424.64,371.60 Z" fill="none" stroke="#000" stroke-width="0.6" />
<path d="M424.98,371.70 C424.98,370.13 425.23,368.58 425.78,367.30 C426.32,366.03 427.32,364.77 428.24,364.05 C429.16,363.33 430.59,363.37 431.32,362.99 C432.05,362.61 432.13,361.80 432.64,361.76 C433.15,361.72 433.59,362.43 434.40,362.73 C435.21,363.02 436.09,363.24 437.48,363.52 C438.87,363.80 441.22,363.96 442.76,364.40 C444.30,364.84 445.71,365.34 446.72,366.16 C447.73,366.98 448.57,368.21 448.83,369.33 C449.10,370.44 448.88,371.85 448.30,372.85 C447.73,373.85 446.84,374.61 445.40,375.31 C443.96,376.02 441.59,376.49 439.68,377.07 C437.77,377.66 435.79,378.49 433.96,378.83 C432.13,379.17 430.04,379.45 428.68,379.10 C427.32,378.74 426.39,377.95 425.78,376.72 C425.16,375.49 424.98,373.27 424.98,371.70 Z" fill="none" stroke="#000" stroke-width="0.6" />
<path d="M425.33,371.81 C425.33,370.34 425.56,368.89 426.06,367.71 C426.57,366.52 427.50,365.34 428.36,364.67 C429.22,364.00 430.55,364.04 431.23,363.69 C431.91,363.33 431.98,362.58 432.46,362.54 C432.94,362.50 433.35,363.17 434.10,363.44 C434.85,363.72 435.67,363.92 436.97,364.18 C438.27,364.44 440.45,364.59 441.89,365.00 C443.32,365.41 444.64,365.87 445.58,366.64 C446.52,367.41 447.30,368.55 447.55,369.59 C447.79,370.63 447.59,371.94 447.06,372.87 C446.52,373.80 445.69,374.51 444.35,375.17 C443.01,375.82 440.80,376.26 439.02,376.81 C437.24,377.35 435.40,378.13 433.69,378.45 C431.98,378.76 430.04,379.02 428.77,378.69 C427.50,378.37 426.64,377.63 426.06,376.48 C425.49,375.33 425.33,373.27 425.33,371.81 Z" fill="none" stroke="#000" stroke-width="0.6" />
<path d="M425.67,371.91 C425.67,370.55 425.88,369.21 426.35,368.11 C426.82,367.01 427.68,365.92 428.48,365.30 C429.28,364.68 430.51,364.71 431.14,364.38 C431.77,364.05 431.84,363.36 432.28,363.32 C432.72,363.28 433.10,363.90 433.80,364.16 C434.50,364.41 435.26,364.60 436.46,364.84 C437.66,365.08 439.69,365.22 441.02,365.60 C442.35,365.98 443.57,366.41 444.44,367.12 C445.31,367.83 446.04,368.89 446.26,369.86 C446.49,370.82 446.30,372.03 445.81,372.90 C445.31,373.76 444.54,374.42 443.30,375.02 C442.06,375.63 440.01,376.04 438.36,376.54 C436.71,377.05 435.00,377.77 433.42,378.06 C431.84,378.36 430.04,378.60 428.86,378.29 C427.68,377.99 426.88,377.30 426.35,376.24 C425.82,375.18 425.67,373.26 425.67,371.91 Z" fill="none" stroke="#000" stroke-width="0.6" />
<path d="M426.01,372.01 C426.01,370.76 426.21,369.52 426.64,368.51 C427.07,367.50 427.87,366.49 428.60,365.92 C429.34,365.35 430.47,365.38 431.05,365.08 C431.63,364.78 431.69,364.13 432.10,364.10 C432.51,364.06 432.86,364.64 433.50,364.87 C434.14,365.10 434.84,365.28 435.95,365.50 C437.06,365.72 438.92,365.85 440.15,366.20 C441.38,366.55 442.50,366.95 443.30,367.60 C444.11,368.25 444.77,369.23 444.98,370.12 C445.19,371.01 445.01,372.13 444.56,372.92 C444.11,373.71 443.39,374.32 442.25,374.88 C441.11,375.44 439.22,375.81 437.70,376.28 C436.18,376.75 434.61,377.41 433.15,377.68 C431.69,377.95 430.03,378.17 428.95,377.89 C427.87,377.61 427.13,376.98 426.64,376.00 C426.15,375.02 426.01,373.26 426.01,372.01 Z" fill="none" stroke="#000" stroke-width="0.6" />
<path d="M426.35,372.11 C426.35,370.97 426.53,369.84 426.93,368.91 C427.32,367.98 428.05,367.07 428.72,366.54 C429.39,366.02 430.43,366.05 430.96,365.78 C431.49,365.50 431.55,364.91 431.92,364.88 C432.29,364.85 432.61,365.37 433.20,365.58 C433.79,365.80 434.43,365.96 435.44,366.16 C436.45,366.36 438.16,366.48 439.28,366.80 C440.40,367.12 441.42,367.48 442.16,368.08 C442.90,368.68 443.50,369.57 443.70,370.38 C443.89,371.19 443.73,372.22 443.31,372.94 C442.90,373.67 442.25,374.22 441.20,374.74 C440.15,375.25 438.43,375.59 437.04,376.02 C435.65,376.44 434.21,377.05 432.88,377.30 C431.55,377.54 430.03,377.74 429.04,377.49 C428.05,377.23 427.38,376.66 426.93,375.76 C426.48,374.86 426.35,373.25 426.35,372.11 Z" fill="none" stroke="#000" stroke-width="0.6" />
<path d="M426.69,372.21 C426.69,371.18 426.86,370.16 427.22,369.31 C427.57,368.47 428.23,367.64 428.84,367.17 C429.45,366.69 430.39,366.72 430.87,366.47 C431.35,366.22 431.40,365.69 431.74,365.66 C432.08,365.63 432.37,366.10 432.90,366.30 C433.43,366.49 434.01,366.64 434.93,366.82 C435.85,367.00 437.40,367.11 438.41,367.40 C439.43,367.69 440.35,368.02 441.02,368.56 C441.69,369.10 442.24,369.91 442.41,370.65 C442.59,371.38 442.44,372.31 442.06,372.97 C441.69,373.63 441.10,374.13 440.15,374.59 C439.20,375.06 437.64,375.37 436.38,375.75 C435.12,376.14 433.82,376.69 432.61,376.91 C431.40,377.13 430.03,377.32 429.13,377.09 C428.23,376.85 427.62,376.33 427.22,375.52 C426.81,374.71 426.69,373.25 426.69,372.21 Z" fill="none" stroke="#000" stroke-width="0.6" />
<path d="M427.04,372.32 C427.04,371.39 427.18,370.47 427.50,369.72 C427.82,368.96 428.41,368.22 428.96,367.79 C429.51,367.37 430.35,367.39 430.78,367.17 C431.21,366.94 431.26,366.47 431.56,366.44 C431.86,366.41 432.12,366.84 432.60,367.01 C433.08,367.19 433.60,367.32 434.42,367.48 C435.24,367.64 436.63,367.74 437.54,368.00 C438.45,368.26 439.28,368.55 439.88,369.04 C440.48,369.53 440.97,370.25 441.13,370.91 C441.28,371.57 441.15,372.40 440.82,372.99 C440.48,373.58 439.95,374.03 439.10,374.45 C438.25,374.86 436.85,375.14 435.72,375.49 C434.59,375.83 433.42,376.33 432.34,376.53 C431.26,376.73 430.03,376.89 429.22,376.68 C428.41,376.48 427.87,376.01 427.50,375.28 C427.14,374.55 427.04,373.24 427.04,372.32 Z" fill="none" stroke="#000" stroke-width="0.6" />
<path d="M427.38,372.42 C427.38,371.60 427.51,370.78 427.79,370.12 C428.08,369.45 428.60,368.79 429.08,368.42 C429.56,368.04 430.31,368.06 430.69,367.86 C431.07,367.66 431.11,367.24 431.38,367.22 C431.65,367.20 431.88,367.57 432.30,367.73 C432.72,367.88 433.18,367.99 433.91,368.14 C434.64,368.29 435.87,368.37 436.67,368.60 C437.48,368.83 438.21,369.09 438.74,369.52 C439.27,369.95 439.71,370.59 439.84,371.18 C439.98,371.76 439.87,372.49 439.57,373.02 C439.27,373.54 438.80,373.94 438.05,374.30 C437.30,374.67 436.06,374.92 435.06,375.22 C434.06,375.53 433.03,375.97 432.07,376.14 C431.11,376.32 430.02,376.47 429.31,376.28 C428.60,376.10 428.11,375.68 427.79,375.04 C427.47,374.40 427.38,373.24 427.38,372.42 Z" fill="none" stroke="#000" stroke-width="0.6" />
<path d="M427.72,372.52 C427.72,371.81 427.83,371.10 428.08,370.52 C428.33,369.94 428.78,369.37 429.20,369.04 C429.62,368.71 430.27,368.73 430.60,368.56 C430.93,368.39 430.97,368.02 431.20,368.00 C431.43,367.98 431.63,368.31 432.00,368.44 C432.37,368.57 432.77,368.67 433.40,368.80 C434.03,368.93 435.10,369.00 435.80,369.20 C436.50,369.40 437.14,369.63 437.60,370.00 C438.06,370.37 438.44,370.93 438.56,371.44 C438.68,371.95 438.58,372.59 438.32,373.04 C438.06,373.49 437.65,373.84 437.00,374.16 C436.35,374.48 435.27,374.69 434.40,374.96 C433.53,375.23 432.63,375.61 431.80,375.76 C430.97,375.91 430.02,376.04 429.40,375.88 C428.78,375.72 428.36,375.36 428.08,374.80 C427.80,374.24 427.72,373.23 427.72,372.52 Z" fill="none" stroke="#000" stroke-width="0.6" />
<path d="M428.06,372.62 C428.06,372.02 428.16,371.41 428.37,370.92 C428.58,370.43 428.96,369.94 429.32,369.66 C429.68,369.39 430.23,369.40 430.51,369.26 C430.79,369.11 430.82,368.80 431.02,368.78 C431.22,368.76 431.39,369.04 431.70,369.15 C432.01,369.27 432.35,369.35 432.89,369.46 C433.43,369.57 434.34,369.63 434.93,369.80 C435.52,369.97 436.07,370.16 436.46,370.48 C436.85,370.80 437.17,371.27 437.28,371.70 C437.38,372.13 437.29,372.68 437.07,373.06 C436.85,373.45 436.51,373.74 435.95,374.02 C435.39,374.29 434.48,374.47 433.74,374.70 C433.00,374.92 432.24,375.25 431.53,375.38 C430.82,375.51 430.02,375.61 429.49,375.48 C428.96,375.34 428.61,375.04 428.37,374.56 C428.13,374.08 428.06,373.23 428.06,372.62 Z" fill="none" stroke="#000" stroke-width="0.6" />
<path d="M428.40,372.72 C428.40,372.22 428.48,371.73 428.66,371.32 C428.83,370.92 429.15,370.52 429.44,370.29 C429.73,370.06 430.19,370.07 430.42,369.95 C430.65,369.83 430.68,369.57 430.84,369.56 C431.00,369.55 431.14,369.77 431.40,369.87 C431.66,369.96 431.94,370.03 432.38,370.12 C432.82,370.21 433.57,370.26 434.06,370.40 C434.55,370.54 435.00,370.70 435.32,370.96 C435.64,371.22 435.91,371.61 435.99,371.97 C436.08,372.32 436.01,372.77 435.82,373.09 C435.64,373.41 435.36,373.65 434.90,373.87 C434.44,374.10 433.69,374.25 433.08,374.43 C432.47,374.62 431.84,374.88 431.26,374.99 C430.68,375.10 430.01,375.19 429.58,375.08 C429.15,374.96 428.85,374.71 428.66,374.32 C428.46,373.93 428.40,373.22 428.40,372.72 Z" fill="none" stroke="#000" stroke-width="0.6" />
<ellipse cx="430.6" cy="372.8" rx="5.6" ry="6.2" fill="#050505" transform="rotate(10 430.6 372.8)"/>
<ellipse cx="428.8" cy="371.5" rx="3.6" ry="6.0" fill="#050505" transform="rotate(25 428.8 371.5)"/>
<circle cx="431.80" cy="374.20" r="0.75" fill="#fff"/>
<ellipse cx="442.6" cy="372.0" rx="3.4" ry="2.5" fill="#fff" stroke="#000" stroke-width="0.7" transform="rotate(-25 442.6 372.0)"/>
<ellipse cx="442.3" cy="372.3" rx="1.7" ry="1.2" fill="none" stroke="#000" stroke-width="0.6" transform="rotate(-25 442.3 372.3)"/>
<path d="M415.6,370.9 A3.2,3.4 0 0 1 415.6,377.7 Z" fill="#050505" stroke="none" stroke-width="1.0" />
<circle cx="416.40" cy="374.30" r="0.60" fill="#fff"/>
<rect x="415.60" y="324.40" width="68.00" height="68.00" fill="none" stroke="#1a1a1a" stroke-width="1.0" />
<line x1="437.70" y1="324.40" x2="437.70" y2="392.40" stroke="#222" stroke-width="0.9" />
<line x1="415.60" y1="361.20" x2="483.60" y2="361.20" stroke="#222" stroke-width="0.9" />
<line x1="412.80" y1="330.50" x2="415.60" y2="330.50" stroke="#1a1a1a" stroke-width="0.9" />
<line x1="412.80" y1="347.20" x2="415.60" y2="347.20" stroke="#1a1a1a" stroke-width="0.9" />
<line x1="412.80" y1="366.20" x2="415.60" y2="366.20" stroke="#1a1a1a" stroke-width="0.9" />
<line x1="412.80" y1="377.00" x2="415.60" y2="377.00" stroke="#1a1a1a" stroke-width="0.9" />
<line x1="412.80" y1="387.00" x2="415.60" y2="387.00" stroke="#1a1a1a" stroke-width="0.9" />
<line x1="413.80" y1="360.48" x2="415.60" y2="360.48" stroke="#1a1a1a" stroke-width="0.55" />
<line x1="413.80" y1="357.13" x2="415.60" y2="357.13" stroke="#1a1a1a" stroke-width="0.55" />
<line x1="413.80" y1="354.76" x2="415.60" y2="354.76" stroke="#1a1a1a" stroke-width="0.55" />
<line x1="413.80" y1="352.92" x2="415.60" y2="352.92" stroke="#1a1a1a" stroke-width="0.55" />
<line x1="413.80" y1="351.42" x2="415.60" y2="351.42" stroke="#1a1a1a" stroke-width="0.55" />
<line x1="413.80" y1="350.14" x2="415.60" y2="350.14" stroke="#1a1a1a" stroke-width="0.55" />
<line x1="413.80" y1="349.04" x2="415.60" y2="349.04" stroke="#1a1a1a" stroke-width="0.55" />
<line x1="413.80" y1="348.07" x2="415.60" y2="348.07" stroke="#1a1a1a" stroke-width="0.55" />
<line x1="413.80" y1="342.17" x2="415.60" y2="342.17" stroke="#1a1a1a" stroke-width="0.55" />
<line x1="413.80" y1="339.23" x2="415.60" y2="339.23" stroke="#1a1a1a" stroke-width="0.55" />
<line x1="413.80" y1="337.15" x2="415.60" y2="337.15" stroke="#1a1a1a" stroke-width="0.55" />
<line x1="413.80" y1="335.53" x2="415.60" y2="335.53" stroke="#1a1a1a" stroke-width="0.55" />
<line x1="413.80" y1="334.20" x2="415.60" y2="334.20" stroke="#1a1a1a" stroke-width="0.55" />
<line x1="413.80" y1="333.09" x2="415.60" y2="333.09" stroke="#1a1a1a" stroke-width="0.55" />
<line x1="413.80" y1="332.12" x2="415.60" y2="332.12" stroke="#1a1a1a" stroke-width="0.55" />
<line x1="413.80" y1="331.26" x2="415.60" y2="331.26" stroke="#1a1a1a" stroke-width="0.55" />
<line x1="413.80" y1="325.47" x2="415.60" y2="325.47" stroke="#1a1a1a" stroke-width="0.55" />
<line x1="413.80" y1="367.50" x2="415.60" y2="367.50" stroke="#1a1a1a" stroke-width="0.55" />
<line x1="413.80" y1="369.10" x2="415.60" y2="369.10" stroke="#1a1a1a" stroke-width="0.55" />
<line x1="413.80" y1="370.70" x2="415.60" y2="370.70" stroke="#1a1a1a" stroke-width="0.55" />
<line x1="413.80" y1="372.30" x2="415.60" y2="372.30" stroke="#1a1a1a" stroke-width="0.55" />
<line x1="413.80" y1="373.90" x2="415.60" y2="373.90" stroke="#1a1a1a" stroke-width="0.55" />
<line x1="413.80" y1="375.50" x2="415.60" y2="375.50" stroke="#1a1a1a" stroke-width="0.55" />
<line x1="413.80" y1="378.50" x2="415.60" y2="378.50" stroke="#1a1a1a" stroke-width="0.55" />
<line x1="413.80" y1="380.10" x2="415.60" y2="380.10" stroke="#1a1a1a" stroke-width="0.55" />
<line x1="413.80" y1="381.70" x2="415.60" y2="381.70" stroke="#1a1a1a" stroke-width="0.55" />
<line x1="413.80" y1="383.30" x2="415.60" y2="383.30" stroke="#1a1a1a" stroke-width="0.55" />
<line x1="413.80" y1="384.90" x2="415.60" y2="384.90" stroke="#1a1a1a" stroke-width="0.55" />
<line x1="413.80" y1="388.50" x2="415.60" y2="388.50" stroke="#1a1a1a" stroke-width="0.55" />
<line x1="413.80" y1="390.20" x2="415.60" y2="390.20" stroke="#1a1a1a" stroke-width="0.55" />
<line x1="416.50" y1="392.40" x2="416.50" y2="395.20" stroke="#1a1a1a" stroke-width="0.9" />
<line x1="419.00" y1="392.40" x2="419.00" y2="395.20" stroke="#1a1a1a" stroke-width="0.9" />
<line x1="432.10" y1="392.40" x2="432.10" y2="395.20" stroke="#1a1a1a" stroke-width="0.9" />
<line x1="441.10" y1="392.40" x2="441.10" y2="395.20" stroke="#1a1a1a" stroke-width="0.9" />
<line x1="460.30" y1="392.40" x2="460.30" y2="395.20" stroke="#1a1a1a" stroke-width="0.9" />
<line x1="475.60" y1="392.40" x2="475.60" y2="395.20" stroke="#1a1a1a" stroke-width="0.9" />
<line x1="446.88" y1="392.40" x2="446.88" y2="394.20" stroke="#1a1a1a" stroke-width="0.55" />
<line x1="450.26" y1="392.40" x2="450.26" y2="394.20" stroke="#1a1a1a" stroke-width="0.55" />
<line x1="452.66" y1="392.40" x2="452.66" y2="394.20" stroke="#1a1a1a" stroke-width="0.55" />
<line x1="454.52" y1="392.40" x2="454.52" y2="394.20" stroke="#1a1a1a" stroke-width="0.55" />
<line x1="456.04" y1="392.40" x2="456.04" y2="394.20" stroke="#1a1a1a" stroke-width="0.55" />
<line x1="457.33" y1="392.40" x2="457.33" y2="394.20" stroke="#1a1a1a" stroke-width="0.55" />
<line x1="458.44" y1="392.40" x2="458.44" y2="394.20" stroke="#1a1a1a" stroke-width="0.55" />
<line x1="459.42" y1="392.40" x2="459.42" y2="394.20" stroke="#1a1a1a" stroke-width="0.55" />
<line x1="464.91" y1="392.40" x2="464.91" y2="394.20" stroke="#1a1a1a" stroke-width="0.55" />
<line x1="467.60" y1="392.40" x2="467.60" y2="394.20" stroke="#1a1a1a" stroke-width="0.55" />
<line x1="469.51" y1="392.40" x2="469.51" y2="394.20" stroke="#1a1a1a" stroke-width="0.55" />
<line x1="470.99" y1="392.40" x2="470.99" y2="394.20" stroke="#1a1a1a" stroke-width="0.55" />
<line x1="472.21" y1="392.40" x2="472.21" y2="394.20" stroke="#1a1a1a" stroke-width="0.55" />
<line x1="473.23" y1="392.40" x2="473.23" y2="394.20" stroke="#1a1a1a" stroke-width="0.55" />
<line x1="474.12" y1="392.40" x2="474.12" y2="394.20" stroke="#1a1a1a" stroke-width="0.55" />
<line x1="474.90" y1="392.40" x2="474.90" y2="394.20" stroke="#1a1a1a" stroke-width="0.55" />
<line x1="480.21" y1="392.40" x2="480.21" y2="394.20" stroke="#1a1a1a" stroke-width="0.55" />
<line x1="482.90" y1="392.40" x2="482.90" y2="394.20" stroke="#1a1a1a" stroke-width="0.55" />
<line x1="420.50" y1="392.40" x2="420.50" y2="394.20" stroke="#1a1a1a" stroke-width="0.55" />
<line x1="422.05" y1="392.40" x2="422.05" y2="394.20" stroke="#1a1a1a" stroke-width="0.55" />
<line x1="423.60" y1="392.40" x2="423.60" y2="394.20" stroke="#1a1a1a" stroke-width="0.55" />
<line x1="425.15" y1="392.40" x2="425.15" y2="394.20" stroke="#1a1a1a" stroke-width="0.55" />
<line x1="426.70" y1="392.40" x2="426.70" y2="394.20" stroke="#1a1a1a" stroke-width="0.55" />
<line x1="428.25" y1="392.40" x2="428.25" y2="394.20" stroke="#1a1a1a" stroke-width="0.55" />
<line x1="429.80" y1="392.40" x2="429.80" y2="394.20" stroke="#1a1a1a" stroke-width="0.55" />
<line x1="433.50" y1="392.40" x2="433.50" y2="394.20" stroke="#1a1a1a" stroke-width="0.55" />
<line x1="435.00" y1="392.40" x2="435.00" y2="394.20" stroke="#1a1a1a" stroke-width="0.55" />
<line x1="436.50" y1="392.40" x2="436.50" y2="394.20" stroke="#1a1a1a" stroke-width="0.55" />
<line x1="438.00" y1="392.40" x2="438.00" y2="394.20" stroke="#1a1a1a" stroke-width="0.55" />
<line x1="439.50" y1="392.40" x2="439.50" y2="394.20" stroke="#1a1a1a" stroke-width="0.55" />
<text x="417.00" y="331.90" font-size="7.30" textLength="8.50" lengthAdjust="spacingAndGlyphs" >Q1</text>
<text x="417.00" y="338.40" font-size="7.30" textLength="13.00" lengthAdjust="spacingAndGlyphs" >11.1</text>
<text x="417.00" y="384.80" font-size="7.30" textLength="8.50" lengthAdjust="spacingAndGlyphs" >Q4</text>
<text x="417.00" y="391.50" font-size="7.30" textLength="13.70" lengthAdjust="spacingAndGlyphs" >73.2</text>
<text x="480.40" y="331.90" font-size="7.30" text-anchor="end" textLength="9.50" lengthAdjust="spacingAndGlyphs" >Q2</text>
<text x="480.40" y="340.40" font-size="7.30" text-anchor="end" textLength="13.70" lengthAdjust="spacingAndGlyphs" >1.80</text>
<text x="480.40" y="381.60" font-size="7.30" text-anchor="end" textLength="9.10" lengthAdjust="spacingAndGlyphs" >Q3</text>
<text x="480.40" y="390.00" font-size="7.30" text-anchor="end" textLength="13.70" lengthAdjust="spacingAndGlyphs" >13.9</text>
<text x="409.90" y="333.00" font-size="7.00" text-anchor="end" textLength="10.00" lengthAdjust="spacingAndGlyphs" >10<tspan dx="0.00" dy="-2.66" font-size="4.76">5</tspan><tspan dx="0.00" dy="2.66"></tspan></text>
<text x="409.90" y="349.70" font-size="7.00" text-anchor="end" textLength="10.00" lengthAdjust="spacingAndGlyphs" >10<tspan dx="0.00" dy="-2.66" font-size="4.76">4</tspan><tspan dx="0.00" dy="2.66"></tspan></text>
<text x="409.90" y="368.70" font-size="7.00" text-anchor="end" textLength="10.00" lengthAdjust="spacingAndGlyphs" >10<tspan dx="0.00" dy="-2.66" font-size="4.76">3</tspan><tspan dx="0.00" dy="2.66"></tspan></text>
<text x="409.90" y="379.50" font-size="7.00" text-anchor="end" >0</text>
<text x="409.90" y="389.50" font-size="7.00" text-anchor="end" textLength="14.30" lengthAdjust="spacingAndGlyphs" >−10<tspan dx="0.00" dy="-2.66" font-size="4.76">3</tspan><tspan dx="0.00" dy="2.66"></tspan></text>
<text x="416.50" y="401.70" font-size="7.00" text-anchor="middle" textLength="11.60" lengthAdjust="spacingAndGlyphs" >−10<tspan dx="0.00" dy="-2.66" font-size="4.76">3</tspan><tspan dx="0.00" dy="2.66"></tspan></text>
<text x="432.10" y="401.70" font-size="7.00" text-anchor="middle" >0</text>
<text x="441.10" y="401.70" font-size="7.00" text-anchor="middle" textLength="8.80" lengthAdjust="spacingAndGlyphs" >10<tspan dx="0.00" dy="-2.66" font-size="4.76">3</tspan><tspan dx="0.00" dy="2.66"></tspan></text>
<text x="460.30" y="401.70" font-size="7.00" text-anchor="middle" textLength="8.60" lengthAdjust="spacingAndGlyphs" >10<tspan dx="0.00" dy="-2.66" font-size="4.76">4</tspan><tspan dx="0.00" dy="2.66"></tspan></text>
<text x="475.60" y="401.70" font-size="7.00" text-anchor="middle" textLength="9.50" lengthAdjust="spacingAndGlyphs" >10<tspan dx="0.00" dy="-2.66" font-size="4.76">5</tspan><tspan dx="0.00" dy="2.66"></tspan></text>
<line x1="389.20" y1="333.50" x2="389.20" y2="376.30" stroke="#1a1a1a" stroke-width="1.0" />
<path d="M389.2,329.6 L387.0,335.2 L391.4,335.2 Z" fill="#1a1a1a" stroke="none" stroke-width="1.0" />
<text x="392.0" y="388.0" font-size="8.2" text-anchor="middle" textLength="16.9" lengthAdjust="spacingAndGlyphs" transform="rotate(-90 392.0 388.0)" fill="#1a1a1a">DAPI</text>
<text x="411.70" y="410.60" font-size="8.00" textLength="27.90" lengthAdjust="spacingAndGlyphs" >Annexin</text>
<line x1="440.30" y1="409.10" x2="474.50" y2="409.10" stroke="#1a1a1a" stroke-width="1.0" />
<path d="M478.5,409.1 L472.5,406.9 L472.5,411.3 Z" fill="#1a1a1a" stroke="none" stroke-width="1.0" />
<text x="453.60" y="430.50" font-size="9.90" text-anchor="middle" textLength="65.40" lengthAdjust="spacingAndGlyphs" >DAPI<tspan dx="0.50" dy="-3.07" font-size="5.15">−</tspan><tspan dx="0.50" dy="3.07"> Annexin<tspan dx="0.50" dy="-3.07" font-size="5.15">+</tspan><tspan dx="0.50" dy="3.07"></tspan></tspan></text>
<text x="453.90" y="442.10" font-size="9.90" text-anchor="middle" textLength="26.50" lengthAdjust="spacingAndGlyphs" >T cells</text>
<line x1="415.50" y1="445.00" x2="415.50" y2="514.20" stroke="#1a1a1a" stroke-width="1.1" />
<line x1="412.30" y1="445.50" x2="415.50" y2="445.50" stroke="#1a1a1a" stroke-width="1.0" />
<text x="409.60" y="448.21" font-size="8.20" text-anchor="end" >20</text>
<line x1="412.30" y1="462.50" x2="415.50" y2="462.50" stroke="#1a1a1a" stroke-width="1.0" />
<text x="409.60" y="465.51" font-size="8.20" text-anchor="end" >15</text>
<line x1="412.30" y1="479.50" x2="415.50" y2="479.50" stroke="#1a1a1a" stroke-width="1.0" />
<text x="409.60" y="482.41" font-size="8.20" text-anchor="end" >10</text>
<line x1="412.30" y1="496.50" x2="415.50" y2="496.50" stroke="#1a1a1a" stroke-width="1.0" />
<text x="409.60" y="499.61" font-size="8.20" text-anchor="end" >5</text>
<line x1="412.30" y1="513.50" x2="415.50" y2="513.50" stroke="#1a1a1a" stroke-width="1.0" />
<text x="409.60" y="516.61" font-size="8.20" text-anchor="end" >0</text>
<rect x="426.30" y="484.50" width="21.60" height="29.70" fill="#6f96b8" stroke="#5f8ab0" stroke-width="0.7" />
<rect x="459.20" y="466.60" width="21.60" height="47.60" fill="#dc7080" stroke="#d65a70" stroke-width="0.7" />
<line x1="437.30" y1="473.90" x2="437.30" y2="494.50" stroke="#124a88" stroke-width="1.15" />
<line x1="431.80" y1="473.90" x2="442.80" y2="473.90" stroke="#124a88" stroke-width="1.15" />
<line x1="431.80" y1="494.50" x2="442.80" y2="494.50" stroke="#124a88" stroke-width="1.15" />
<line x1="469.80" y1="456.70" x2="469.80" y2="475.30" stroke="#cb1235" stroke-width="1.15" />
<line x1="464.20" y1="456.70" x2="475.40" y2="456.70" stroke="#cb1235" stroke-width="1.15" />
<line x1="464.20" y1="475.30" x2="475.40" y2="475.30" stroke="#cb1235" stroke-width="1.15" />
<circle cx="437.30" cy="468.90" r="1.75" fill="#124a88"/>
<circle cx="437.30" cy="473.90" r="1.75" fill="#124a88"/>
<circle cx="437.30" cy="479.90" r="1.75" fill="#124a88"/>
<circle cx="437.30" cy="487.80" r="1.75" fill="#124a88"/>
<circle cx="433.30" cy="492.70" r="1.75" fill="#124a88"/>
<circle cx="441.50" cy="493.20" r="1.75" fill="#124a88"/>
<circle cx="437.30" cy="494.50" r="1.75" fill="#124a88"/>
<rect x="466.00" y="449.90" width="3.40" height="3.40" fill="#cb1235" stroke="none" stroke-width="0.8" />
<rect x="470.30" y="451.30" width="3.40" height="3.40" fill="#cb1235" stroke="none" stroke-width="0.8" />
<rect x="468.10" y="460.50" width="3.40" height="3.40" fill="#cb1235" stroke="none" stroke-width="0.8" />
<rect x="466.30" y="465.40" width="3.40" height="3.40" fill="#cb1235" stroke="none" stroke-width="0.8" />
<rect x="463.60" y="470.90" width="3.40" height="3.40" fill="#cb1235" stroke="none" stroke-width="0.8" />
<rect x="469.10" y="468.50" width="3.40" height="3.40" fill="#cb1235" stroke="none" stroke-width="0.8" />
<rect x="472.20" y="473.30" width="3.40" height="3.40" fill="#cb1235" stroke="none" stroke-width="0.8" />
<rect x="467.20" y="474.50" width="3.40" height="3.40" fill="#cb1235" stroke="none" stroke-width="0.8" />
<line x1="443.90" y1="452.50" x2="462.90" y2="452.50" stroke="#222" stroke-width="1.2" />
<text x="453.40" y="453.20" font-size="9.30" text-anchor="middle" >**</text>
<text x="395.55" y="479.70" font-size="10.00" text-anchor="middle" textLength="46.50" lengthAdjust="spacingAndGlyphs" transform="rotate(-90 395.55 479.70)" fill="#1a1a1a">% CD4<tspan dx="0.50" dy="-3.10" font-size="5.20">+</tspan><tspan dx="0.50" dy="3.10"> T cells</tspan></text>
<circle cx="490.30" cy="446.10" r="2.30" fill="#124a88"/>
<text x="496.40" y="448.87" font-size="7.70" textLength="10.90" lengthAdjust="spacingAndGlyphs" >WT</text>
<rect x="489.00" y="456.70" width="4.20" height="4.20" fill="#cb1235" stroke="none" stroke-width="0.8" />
<text x="496.40" y="461.57" font-size="7.70" textLength="11.50" lengthAdjust="spacingAndGlyphs" >KO</text>
<text x="8.40" y="530.20" font-size="11.00" font-weight="bold" fill="#000" style="stroke:#000;stroke-width:0.35px">J</text>
<text x="76.90" y="537.00" font-size="9.90" text-anchor="middle" textLength="44.60" lengthAdjust="spacingAndGlyphs" >CD4<tspan dx="0.50" dy="-3.07" font-size="5.15">+</tspan><tspan dx="0.50" dy="3.07"> Bim<tspan dx="0.50" dy="-3.07" font-size="5.15">+</tspan><tspan dx="0.50" dy="3.07"></tspan></tspan></text>
<line x1="40.50" y1="542.00" x2="40.50" y2="610.00" stroke="#1a1a1a" stroke-width="1.1" />
<line x1="37.30" y1="542.50" x2="40.50" y2="542.50" stroke="#1a1a1a" stroke-width="1.0" />
<text x="34.60" y="545.31" font-size="8.20" text-anchor="end" >15</text>
<line x1="37.30" y1="564.50" x2="40.50" y2="564.50" stroke="#1a1a1a" stroke-width="1.0" />
<text x="34.60" y="567.81" font-size="8.20" text-anchor="end" >10</text>
<line x1="37.30" y1="587.50" x2="40.50" y2="587.50" stroke="#1a1a1a" stroke-width="1.0" />
<text x="34.60" y="590.31" font-size="8.20" text-anchor="end" >5</text>
<line x1="37.30" y1="609.50" x2="40.50" y2="609.50" stroke="#1a1a1a" stroke-width="1.0" />
<text x="34.60" y="612.41" font-size="8.20" text-anchor="end" >0</text>
<rect x="52.00" y="603.20" width="21.10" height="6.20" fill="#6f96b8" stroke="#5f8ab0" stroke-width="0.7" />
<rect x="84.90" y="590.40" width="21.30" height="19.00" fill="#dc7080" stroke="#d65a70" stroke-width="0.7" />
<line x1="62.60" y1="596.50" x2="62.60" y2="609.00" stroke="#124a88" stroke-width="1.15" />
<line x1="57.20" y1="596.50" x2="68.00" y2="596.50" stroke="#124a88" stroke-width="1.15" />
<line x1="57.20" y1="609.00" x2="68.00" y2="609.00" stroke="#124a88" stroke-width="1.15" />
<line x1="95.40" y1="573.00" x2="95.40" y2="607.00" stroke="#cb1235" stroke-width="1.15" />
<line x1="90.00" y1="573.00" x2="100.80" y2="573.00" stroke="#cb1235" stroke-width="1.15" />
<line x1="90.00" y1="607.00" x2="100.80" y2="607.00" stroke="#cb1235" stroke-width="1.15" />
<circle cx="62.60" cy="589.90" r="1.75" fill="#124a88"/>
<circle cx="62.80" cy="597.30" r="1.75" fill="#124a88"/>
<circle cx="67.40" cy="600.40" r="1.75" fill="#124a88"/>
<circle cx="58.20" cy="603.20" r="1.75" fill="#124a88"/>
<circle cx="62.80" cy="603.80" r="1.75" fill="#124a88"/>
<circle cx="55.40" cy="607.30" r="1.75" fill="#124a88"/>
<circle cx="59.70" cy="607.80" r="1.75" fill="#124a88"/>
<circle cx="66.50" cy="607.80" r="1.75" fill="#124a88"/>
<circle cx="70.80" cy="608.10" r="1.75" fill="#124a88"/>
<rect x="93.70" y="549.50" width="3.40" height="3.40" fill="#cb1235" stroke="none" stroke-width="0.8" />
<rect x="93.70" y="567.60" width="3.40" height="3.40" fill="#cb1235" stroke="none" stroke-width="0.8" />
<rect x="93.70" y="585.60" width="3.40" height="3.40" fill="#cb1235" stroke="none" stroke-width="0.8" />
<rect x="89.10" y="591.00" width="3.40" height="3.40" fill="#cb1235" stroke="none" stroke-width="0.8" />
<rect x="99.10" y="593.80" width="3.40" height="3.40" fill="#cb1235" stroke="none" stroke-width="0.8" />
<rect x="93.70" y="593.80" width="3.40" height="3.40" fill="#cb1235" stroke="none" stroke-width="0.8" />
<rect x="91.40" y="597.10" width="3.40" height="3.40" fill="#cb1235" stroke="none" stroke-width="0.8" />
<rect x="96.00" y="601.00" width="3.40" height="3.40" fill="#cb1235" stroke="none" stroke-width="0.8" />
<rect x="98.60" y="600.20" width="3.40" height="3.40" fill="#cb1235" stroke="none" stroke-width="0.8" />
<rect x="91.40" y="606.40" width="3.40" height="3.40" fill="#cb1235" stroke="none" stroke-width="0.8" />
<line x1="66.20" y1="557.00" x2="92.00" y2="557.00" stroke="#222" stroke-width="1.2" />
<text x="79.10" y="557.70" font-size="9.30" text-anchor="middle" >*</text>
<text x="20.55" y="575.90" font-size="10.00" text-anchor="middle" textLength="46.40" lengthAdjust="spacingAndGlyphs" transform="rotate(-90 20.55 575.90)" fill="#1a1a1a">% CD4<tspan dx="0.50" dy="-3.10" font-size="5.20">+</tspan><tspan dx="0.50" dy="3.10"> T cells</tspan></text>
<text x="205.90" y="537.10" font-size="9.90" text-anchor="middle" textLength="71.90" lengthAdjust="spacingAndGlyphs" >CD4<tspan dx="0.50" dy="-3.07" font-size="5.15">+</tspan><tspan dx="0.50" dy="3.07"> Caspase-3<tspan dx="0.50" dy="-3.07" font-size="5.15">+</tspan><tspan dx="0.50" dy="3.07"></tspan></tspan></text>
<line x1="171.50" y1="543.00" x2="171.50" y2="609.70" stroke="#1a1a1a" stroke-width="1.1" />
<line x1="168.30" y1="543.50" x2="171.50" y2="543.50" stroke="#1a1a1a" stroke-width="1.0" />
<text x="165.40" y="545.91" font-size="8.20" text-anchor="end" >15</text>
<line x1="168.30" y1="565.50" x2="171.50" y2="565.50" stroke="#1a1a1a" stroke-width="1.0" />
<text x="165.40" y="568.21" font-size="8.20" text-anchor="end" >10</text>
<line x1="168.30" y1="587.50" x2="171.50" y2="587.50" stroke="#1a1a1a" stroke-width="1.0" />
<text x="165.40" y="590.21" font-size="8.20" text-anchor="end" >5</text>
<line x1="168.30" y1="609.50" x2="171.50" y2="609.50" stroke="#1a1a1a" stroke-width="1.0" />
<text x="165.40" y="612.11" font-size="8.20" text-anchor="end" >0</text>
<rect x="182.60" y="601.50" width="20.80" height="7.90" fill="#6f96b8" stroke="#5f8ab0" stroke-width="0.7" />
<rect x="216.00" y="587.60" width="20.90" height="21.80" fill="#dc7080" stroke="#d65a70" stroke-width="0.7" />
<line x1="193.10" y1="595.60" x2="193.10" y2="609.00" stroke="#124a88" stroke-width="1.15" />
<line x1="187.80" y1="595.60" x2="198.40" y2="595.60" stroke="#124a88" stroke-width="1.15" />
<line x1="187.80" y1="609.00" x2="198.40" y2="609.00" stroke="#124a88" stroke-width="1.15" />
<line x1="226.30" y1="571.60" x2="226.30" y2="603.80" stroke="#cb1235" stroke-width="1.15" />
<line x1="220.80" y1="571.60" x2="231.80" y2="571.60" stroke="#cb1235" stroke-width="1.15" />
<line x1="220.80" y1="603.80" x2="231.80" y2="603.80" stroke="#cb1235" stroke-width="1.15" />
<circle cx="193.10" cy="588.70" r="1.75" fill="#124a88"/>
<circle cx="190.30" cy="597.70" r="1.75" fill="#124a88"/>
<circle cx="195.20" cy="600.20" r="1.75" fill="#124a88"/>
<circle cx="184.30" cy="603.10" r="1.75" fill="#124a88"/>
<circle cx="187.90" cy="604.20" r="1.75" fill="#124a88"/>
<circle cx="192.00" cy="603.40" r="1.75" fill="#124a88"/>
<circle cx="197.70" cy="603.10" r="1.75" fill="#124a88"/>
<circle cx="201.80" cy="602.10" r="1.75" fill="#124a88"/>
<circle cx="191.10" cy="606.70" r="1.75" fill="#124a88"/>
<circle cx="186.50" cy="606.50" r="1.75" fill="#124a88"/>
<circle cx="199.50" cy="606.30" r="1.75" fill="#124a88"/>
<rect x="224.60" y="551.10" width="3.40" height="3.40" fill="#cb1235" stroke="none" stroke-width="0.8" />
<rect x="224.60" y="566.10" width="3.40" height="3.40" fill="#cb1235" stroke="none" stroke-width="0.8" />
<rect x="219.70" y="585.90" width="3.40" height="3.40" fill="#cb1235" stroke="none" stroke-width="0.8" />
<rect x="224.60" y="587.00" width="3.40" height="3.40" fill="#cb1235" stroke="none" stroke-width="0.8" />
<rect x="229.00" y="584.60" width="3.40" height="3.40" fill="#cb1235" stroke="none" stroke-width="0.8" />
<rect x="222.10" y="591.90" width="3.40" height="3.40" fill="#cb1235" stroke="none" stroke-width="0.8" />
<rect x="226.70" y="591.90" width="3.40" height="3.40" fill="#cb1235" stroke="none" stroke-width="0.8" />
<rect x="222.10" y="597.60" width="3.40" height="3.40" fill="#cb1235" stroke="none" stroke-width="0.8" />
<rect x="226.70" y="597.60" width="3.40" height="3.40" fill="#cb1235" stroke="none" stroke-width="0.8" />
<rect x="224.60" y="604.20" width="3.40" height="3.40" fill="#cb1235" stroke="none" stroke-width="0.8" />
<line x1="196.90" y1="558.50" x2="222.50" y2="558.50" stroke="#222" stroke-width="1.2" />
<text x="209.70" y="559.20" font-size="9.30" text-anchor="middle" >*</text>
<text x="151.55" y="576.60" font-size="10.00" text-anchor="middle" textLength="47.50" lengthAdjust="spacingAndGlyphs" transform="rotate(-90 151.55 576.60)" fill="#1a1a1a">% CD4<tspan dx="0.50" dy="-3.10" font-size="5.20">+</tspan><tspan dx="0.50" dy="3.10"> T cells</tspan></text>
<text x="76.90" y="627.00" font-size="9.90" text-anchor="middle" textLength="44.60" lengthAdjust="spacingAndGlyphs" >CD8<tspan dx="0.50" dy="-3.07" font-size="5.15">+</tspan><tspan dx="0.50" dy="3.07"> Bim<tspan dx="0.50" dy="-3.07" font-size="5.15">+</tspan><tspan dx="0.50" dy="3.07"></tspan></tspan></text>
<line x1="40.50" y1="630.00" x2="40.50" y2="700.30" stroke="#1a1a1a" stroke-width="1.1" />
<line x1="37.30" y1="630.50" x2="40.50" y2="630.50" stroke="#1a1a1a" stroke-width="1.0" />
<text x="34.20" y="633.01" font-size="8.20" text-anchor="end" >8</text>
<line x1="37.30" y1="647.50" x2="40.50" y2="647.50" stroke="#1a1a1a" stroke-width="1.0" />
<text x="34.20" y="650.61" font-size="8.20" text-anchor="end" >6</text>
<line x1="37.30" y1="664.50" x2="40.50" y2="664.50" stroke="#1a1a1a" stroke-width="1.0" />
<text x="34.20" y="667.71" font-size="8.20" text-anchor="end" >4</text>
<line x1="37.30" y1="682.50" x2="40.50" y2="682.50" stroke="#1a1a1a" stroke-width="1.0" />
<text x="34.20" y="685.11" font-size="8.20" text-anchor="end" >2</text>
<line x1="37.30" y1="699.50" x2="40.50" y2="699.50" stroke="#1a1a1a" stroke-width="1.0" />
<text x="34.20" y="702.71" font-size="8.20" text-anchor="end" >0</text>
<rect x="52.30" y="685.10" width="20.30" height="14.80" fill="#6f96b8" stroke="#5f8ab0" stroke-width="0.7" />
<rect x="85.70" y="670.50" width="20.10" height="29.40" fill="#dc7080" stroke="#d65a70" stroke-width="0.7" />
<line x1="62.30" y1="672.30" x2="62.30" y2="696.30" stroke="#124a88" stroke-width="1.15" />
<line x1="57.10" y1="672.30" x2="67.50" y2="672.30" stroke="#124a88" stroke-width="1.15" />
<line x1="57.10" y1="696.30" x2="67.50" y2="696.30" stroke="#124a88" stroke-width="1.15" />
<line x1="95.40" y1="652.30" x2="95.40" y2="687.40" stroke="#cb1235" stroke-width="1.15" />
<line x1="90.00" y1="652.30" x2="100.80" y2="652.30" stroke="#cb1235" stroke-width="1.15" />
<line x1="90.00" y1="687.40" x2="100.80" y2="687.40" stroke="#cb1235" stroke-width="1.15" />
<circle cx="62.30" cy="660.00" r="1.75" fill="#124a88"/>
<circle cx="53.50" cy="678.50" r="1.75" fill="#124a88"/>
<circle cx="59.20" cy="677.40" r="1.75" fill="#124a88"/>
<circle cx="65.40" cy="677.40" r="1.75" fill="#124a88"/>
<circle cx="71.50" cy="678.50" r="1.75" fill="#124a88"/>
<circle cx="53.50" cy="691.20" r="1.75" fill="#124a88"/>
<circle cx="59.20" cy="693.50" r="1.75" fill="#124a88"/>
<circle cx="53.50" cy="696.30" r="1.75" fill="#124a88"/>
<circle cx="65.40" cy="696.30" r="1.75" fill="#124a88"/>
<circle cx="71.50" cy="695.40" r="1.75" fill="#124a88"/>
<rect x="93.70" y="633.70" width="3.40" height="3.40" fill="#cb1235" stroke="none" stroke-width="0.8" />
<rect x="93.70" y="652.60" width="3.40" height="3.40" fill="#cb1235" stroke="none" stroke-width="0.8" />
<rect x="90.60" y="657.20" width="3.40" height="3.40" fill="#cb1235" stroke="none" stroke-width="0.8" />
<rect x="96.80" y="659.50" width="3.40" height="3.40" fill="#cb1235" stroke="none" stroke-width="0.8" />
<rect x="96.80" y="668.80" width="3.40" height="3.40" fill="#cb1235" stroke="none" stroke-width="0.8" />
<rect x="90.60" y="671.10" width="3.40" height="3.40" fill="#cb1235" stroke="none" stroke-width="0.8" />
<rect x="96.80" y="679.50" width="3.40" height="3.40" fill="#cb1235" stroke="none" stroke-width="0.8" />
<rect x="90.60" y="681.40" width="3.40" height="3.40" fill="#cb1235" stroke="none" stroke-width="0.8" />
<rect x="96.80" y="688.50" width="3.40" height="3.40" fill="#cb1235" stroke="none" stroke-width="0.8" />
<rect x="90.60" y="690.00" width="3.40" height="3.40" fill="#cb1235" stroke="none" stroke-width="0.8" />
<line x1="65.80" y1="647.80" x2="92.00" y2="647.80" stroke="#222" stroke-width="1.2" />
<text x="78.90" y="648.50" font-size="9.30" text-anchor="middle" >*</text>
<text x="24.45" y="664.40" font-size="10.00" text-anchor="middle" textLength="46.10" lengthAdjust="spacingAndGlyphs" transform="rotate(-90 24.45 664.40)" fill="#1a1a1a">% CD8<tspan dx="0.50" dy="-3.10" font-size="5.20">+</tspan><tspan dx="0.50" dy="3.10"> T cells</tspan></text>
<text x="206.80" y="627.00" font-size="9.90" text-anchor="middle" textLength="69.90" lengthAdjust="spacingAndGlyphs" >CD8<tspan dx="0.50" dy="-3.07" font-size="5.15">+</tspan><tspan dx="0.50" dy="3.07"> Caspase-3<tspan dx="0.50" dy="-3.07" font-size="5.15">+</tspan><tspan dx="0.50" dy="3.07"></tspan></tspan></text>
<line x1="171.50" y1="629.00" x2="171.50" y2="700.10" stroke="#1a1a1a" stroke-width="1.1" />
<line x1="168.30" y1="629.50" x2="171.50" y2="629.50" stroke="#1a1a1a" stroke-width="1.0" />
<text x="165.30" y="631.91" font-size="8.20" text-anchor="end" >8</text>
<line x1="168.30" y1="647.50" x2="171.50" y2="647.50" stroke="#1a1a1a" stroke-width="1.0" />
<text x="165.30" y="650.01" font-size="8.20" text-anchor="end" >6</text>
<line x1="168.30" y1="664.50" x2="171.50" y2="664.50" stroke="#1a1a1a" stroke-width="1.0" />
<text x="165.30" y="667.51" font-size="8.20" text-anchor="end" >4</text>
<line x1="168.30" y1="682.50" x2="171.50" y2="682.50" stroke="#1a1a1a" stroke-width="1.0" />
<text x="165.30" y="685.11" font-size="8.20" text-anchor="end" >2</text>
<line x1="168.30" y1="699.50" x2="171.50" y2="699.50" stroke="#1a1a1a" stroke-width="1.0" />
<text x="165.30" y="702.51" font-size="8.20" text-anchor="end" >0</text>
<text x="176.40" y="645.50" font-size="8.40" textLength="37.60" lengthAdjust="spacingAndGlyphs" >P = 0.0753</text>
<rect x="182.60" y="678.20" width="21.30" height="21.50" fill="#6f96b8" stroke="#5f8ab0" stroke-width="0.7" />
<rect x="215.70" y="667.10" width="21.20" height="32.60" fill="#dc7080" stroke="#d65a70" stroke-width="0.7" />
<line x1="193.10" y1="667.90" x2="193.10" y2="687.20" stroke="#124a88" stroke-width="1.15" />
<line x1="187.80" y1="667.90" x2="198.40" y2="667.90" stroke="#124a88" stroke-width="1.15" />
<line x1="187.80" y1="687.20" x2="198.40" y2="687.20" stroke="#124a88" stroke-width="1.15" />
<line x1="226.30" y1="652.00" x2="226.30" y2="680.30" stroke="#cb1235" stroke-width="1.15" />
<line x1="220.70" y1="652.00" x2="231.90" y2="652.00" stroke="#cb1235" stroke-width="1.15" />
<line x1="220.70" y1="680.30" x2="231.90" y2="680.30" stroke="#cb1235" stroke-width="1.15" />
<circle cx="186.20" cy="665.60" r="1.75" fill="#124a88"/>
<circle cx="193.10" cy="667.20" r="1.75" fill="#124a88"/>
<circle cx="199.60" cy="664.60" r="1.75" fill="#124a88"/>
<circle cx="193.10" cy="674.90" r="1.75" fill="#124a88"/>
<circle cx="199.60" cy="674.90" r="1.75" fill="#124a88"/>
<circle cx="186.20" cy="678.20" r="1.75" fill="#124a88"/>
<circle cx="193.10" cy="681.40" r="1.75" fill="#124a88"/>
<circle cx="193.10" cy="687.50" r="1.75" fill="#124a88"/>
<circle cx="199.60" cy="688.00" r="1.75" fill="#124a88"/>
<circle cx="186.20" cy="690.80" r="1.75" fill="#124a88"/>
<rect x="224.60" y="638.90" width="3.40" height="3.40" fill="#cb1235" stroke="none" stroke-width="0.8" />
<rect x="224.60" y="650.30" width="3.40" height="3.40" fill="#cb1235" stroke="none" stroke-width="0.8" />
<rect x="224.60" y="656.10" width="3.40" height="3.40" fill="#cb1235" stroke="none" stroke-width="0.8" />
<rect x="218.00" y="665.00" width="3.40" height="3.40" fill="#cb1235" stroke="none" stroke-width="0.8" />
<rect x="231.10" y="662.90" width="3.40" height="3.40" fill="#cb1235" stroke="none" stroke-width="0.8" />
<rect x="224.60" y="667.80" width="3.40" height="3.40" fill="#cb1235" stroke="none" stroke-width="0.8" />
<rect x="224.60" y="672.10" width="3.40" height="3.40" fill="#cb1235" stroke="none" stroke-width="0.8" />
<rect x="224.60" y="679.70" width="3.40" height="3.40" fill="#cb1235" stroke="none" stroke-width="0.8" />
<rect x="224.60" y="686.80" width="3.40" height="3.40" fill="#cb1235" stroke="none" stroke-width="0.8" />
<text x="153.95" y="664.60" font-size="10.00" text-anchor="middle" textLength="46.40" lengthAdjust="spacingAndGlyphs" transform="rotate(-90 153.95 664.60)" fill="#1a1a1a">% CD8<tspan dx="0.50" dy="-3.10" font-size="5.20">+</tspan><tspan dx="0.50" dy="3.10"> T cells</tspan></text>
<text x="262.20" y="529.80" font-size="11.00" font-weight="bold" fill="#000" style="stroke:#000;stroke-width:0.35px">K</text>
<text x="332.00" y="536.90" font-size="9.90" text-anchor="middle" textLength="44.80" lengthAdjust="spacingAndGlyphs" >CD4<tspan dx="0.50" dy="-3.07" font-size="5.15">+</tspan><tspan dx="0.50" dy="3.07"> Fas<tspan dx="0.50" dy="-3.07" font-size="5.15">+</tspan><tspan dx="0.50" dy="3.07"></tspan></tspan></text>
<text x="328.30" y="551.50" font-size="9.00" text-anchor="middle" textLength="18.30" lengthAdjust="spacingAndGlyphs" >N.S.</text>
<line x1="293.50" y1="540.00" x2="293.50" y2="610.00" stroke="#1a1a1a" stroke-width="1.1" />
<line x1="290.30" y1="540.50" x2="293.50" y2="540.50" stroke="#1a1a1a" stroke-width="1.0" />
<text x="287.10" y="543.61" font-size="8.20" text-anchor="end" textLength="12.40" lengthAdjust="spacingAndGlyphs" >100</text>
<line x1="290.30" y1="563.50" x2="293.50" y2="563.50" stroke="#1a1a1a" stroke-width="1.0" />
<text x="287.10" y="566.41" font-size="8.20" text-anchor="end" >90</text>
<line x1="290.30" y1="586.50" x2="293.50" y2="586.50" stroke="#1a1a1a" stroke-width="1.0" />
<text x="287.10" y="589.31" font-size="8.20" text-anchor="end" >80</text>
<line x1="290.30" y1="609.50" x2="293.50" y2="609.50" stroke="#1a1a1a" stroke-width="1.0" />
<text x="287.10" y="612.41" font-size="8.20" text-anchor="end" >70</text>
<rect x="304.10" y="567.60" width="21.40" height="41.90" fill="#6f96b8" stroke="#5f8ab0" stroke-width="0.7" />
<rect x="336.70" y="562.50" width="21.40" height="47.00" fill="#dc7080" stroke="#d65a70" stroke-width="0.7" />
<line x1="314.70" y1="563.80" x2="314.70" y2="571.10" stroke="#124a88" stroke-width="1.15" />
<line x1="309.70" y1="563.80" x2="319.70" y2="563.80" stroke="#124a88" stroke-width="1.15" />
<line x1="309.70" y1="571.10" x2="319.70" y2="571.10" stroke="#124a88" stroke-width="1.15" />
<line x1="347.70" y1="557.90" x2="347.70" y2="567.40" stroke="#cb1235" stroke-width="1.15" />
<line x1="343.40" y1="557.90" x2="352.00" y2="557.90" stroke="#cb1235" stroke-width="1.15" />
<line x1="343.40" y1="567.40" x2="352.00" y2="567.40" stroke="#cb1235" stroke-width="1.15" />
<circle cx="314.70" cy="553.30" r="1.75" fill="#124a88"/>
<circle cx="312.40" cy="567.40" r="1.75" fill="#124a88"/>
<circle cx="317.30" cy="568.00" r="1.75" fill="#124a88"/>
<circle cx="312.40" cy="575.30" r="1.75" fill="#124a88"/>
<circle cx="317.30" cy="574.00" r="1.75" fill="#124a88"/>
<rect x="341.20" y="550.40" width="3.40" height="3.40" fill="#cb1235" stroke="none" stroke-width="0.8" />
<rect x="346.00" y="554.70" width="3.40" height="3.40" fill="#cb1235" stroke="none" stroke-width="0.8" />
<rect x="350.30" y="553.50" width="3.40" height="3.40" fill="#cb1235" stroke="none" stroke-width="0.8" />
<rect x="346.00" y="566.30" width="3.40" height="3.40" fill="#cb1235" stroke="none" stroke-width="0.8" />
<rect x="346.00" y="577.80" width="3.40" height="3.40" fill="#cb1235" stroke="none" stroke-width="0.8" />
<text x="269.25" y="575.00" font-size="10.00" text-anchor="middle" textLength="46.50" lengthAdjust="spacingAndGlyphs" transform="rotate(-90 269.25 575.00)" fill="#1a1a1a">% CD4<tspan dx="0.50" dy="-3.10" font-size="5.20">+</tspan><tspan dx="0.50" dy="3.10"> T cells</tspan></text>
<circle cx="374.00" cy="540.50" r="2.20" fill="#124a88"/>
<text x="379.10" y="543.27" font-size="7.70" textLength="10.90" lengthAdjust="spacingAndGlyphs" >WT</text>
<rect x="371.70" y="551.90" width="4.60" height="4.60" fill="#cb1235" stroke="none" stroke-width="0.8" />
<text x="379.50" y="556.97" font-size="7.70" textLength="11.00" lengthAdjust="spacingAndGlyphs" >KO</text>
<text x="332.30" y="627.00" font-size="9.90" text-anchor="middle" textLength="42.20" lengthAdjust="spacingAndGlyphs" >CD8<tspan dx="0.50" dy="-3.07" font-size="5.15">+</tspan><tspan dx="0.50" dy="3.07"> Fas<tspan dx="0.50" dy="-3.07" font-size="5.15">+</tspan><tspan dx="0.50" dy="3.07"></tspan></tspan></text>
<line x1="293.50" y1="629.00" x2="293.50" y2="699.80" stroke="#1a1a1a" stroke-width="1.1" />
<line x1="290.30" y1="629.50" x2="293.50" y2="629.50" stroke="#1a1a1a" stroke-width="1.0" />
<text x="287.10" y="632.71" font-size="8.20" text-anchor="end" textLength="12.40" lengthAdjust="spacingAndGlyphs" >100</text>
<line x1="290.30" y1="641.50" x2="293.50" y2="641.50" stroke="#1a1a1a" stroke-width="1.0" />
<text x="287.10" y="644.31" font-size="8.20" text-anchor="end" >99</text>
<line x1="290.30" y1="653.50" x2="293.50" y2="653.50" stroke="#1a1a1a" stroke-width="1.0" />
<text x="287.10" y="655.91" font-size="8.20" text-anchor="end" >98</text>
<line x1="290.30" y1="664.50" x2="293.50" y2="664.50" stroke="#1a1a1a" stroke-width="1.0" />
<text x="287.10" y="667.41" font-size="8.20" text-anchor="end" >97</text>
<line x1="290.30" y1="676.50" x2="293.50" y2="676.50" stroke="#1a1a1a" stroke-width="1.0" />
<text x="287.10" y="679.11" font-size="8.20" text-anchor="end" >96</text>
<line x1="290.30" y1="687.50" x2="293.50" y2="687.50" stroke="#1a1a1a" stroke-width="1.0" />
<text x="287.10" y="690.71" font-size="8.20" text-anchor="end" >95</text>
<line x1="290.30" y1="699.50" x2="293.50" y2="699.50" stroke="#1a1a1a" stroke-width="1.0" />
<text x="287.10" y="702.21" font-size="8.20" text-anchor="end" >94</text>
<rect x="305.00" y="672.10" width="21.30" height="27.50" fill="#6f96b8" stroke="#5f8ab0" stroke-width="0.7" />
<rect x="339.00" y="660.70" width="21.30" height="38.90" fill="#dc7080" stroke="#d65a70" stroke-width="0.7" />
<line x1="315.70" y1="652.80" x2="315.70" y2="689.60" stroke="#124a88" stroke-width="1.15" />
<line x1="310.40" y1="652.80" x2="321.00" y2="652.80" stroke="#124a88" stroke-width="1.15" />
<line x1="310.40" y1="689.60" x2="321.00" y2="689.60" stroke="#124a88" stroke-width="1.15" />
<line x1="349.60" y1="641.40" x2="349.60" y2="678.20" stroke="#cb1235" stroke-width="1.15" />
<line x1="344.10" y1="641.40" x2="355.10" y2="641.40" stroke="#cb1235" stroke-width="1.15" />
<line x1="344.10" y1="678.20" x2="355.10" y2="678.20" stroke="#cb1235" stroke-width="1.15" />
<circle cx="315.70" cy="647.10" r="1.75" fill="#124a88"/>
<circle cx="315.70" cy="661.00" r="1.75" fill="#124a88"/>
<circle cx="315.70" cy="669.50" r="1.75" fill="#124a88"/>
<circle cx="312.50" cy="690.80" r="1.75" fill="#124a88"/>
<circle cx="319.10" cy="688.00" r="1.75" fill="#124a88"/>
<rect x="344.70" y="641.70" width="3.40" height="3.40" fill="#cb1235" stroke="none" stroke-width="0.8" />
<rect x="351.20" y="644.60" width="3.40" height="3.40" fill="#cb1235" stroke="none" stroke-width="0.8" />
<rect x="347.90" y="654.70" width="3.40" height="3.40" fill="#cb1235" stroke="none" stroke-width="0.8" />
<rect x="347.90" y="662.90" width="3.40" height="3.40" fill="#cb1235" stroke="none" stroke-width="0.8" />
<rect x="347.90" y="687.40" width="3.40" height="3.40" fill="#cb1235" stroke="none" stroke-width="0.8" />
<text x="269.05" y="664.50" font-size="10.00" text-anchor="middle" textLength="46.10" lengthAdjust="spacingAndGlyphs" transform="rotate(-90 269.05 664.50)" fill="#1a1a1a">% CD8<tspan dx="0.50" dy="-3.10" font-size="5.20">+</tspan><tspan dx="0.50" dy="3.10"> T cells</tspan></text>
<line x1="39.95" y1="95.50" x2="114.50" y2="95.50" stroke="#1a1a1a" stroke-width="1.15"/>
<line x1="169.95" y1="95.50" x2="241.50" y2="95.50" stroke="#1a1a1a" stroke-width="1.15"/>
<line x1="320.95" y1="95.50" x2="392.00" y2="95.50" stroke="#1a1a1a" stroke-width="1.15"/>
<line x1="39.95" y1="196.50" x2="114.50" y2="196.50" stroke="#1a1a1a" stroke-width="1.15"/>
<line x1="39.95" y1="300.50" x2="114.60" y2="300.50" stroke="#1a1a1a" stroke-width="1.15"/>
<line x1="170.95" y1="300.50" x2="245.10" y2="300.50" stroke="#1a1a1a" stroke-width="1.15"/>
<line x1="292.95" y1="300.50" x2="366.20" y2="300.50" stroke="#1a1a1a" stroke-width="1.15"/>
<line x1="414.95" y1="188.50" x2="496.00" y2="188.50" stroke="#1a1a1a" stroke-width="1.15"/>
<line x1="414.95" y1="292.50" x2="494.50" y2="292.50" stroke="#1a1a1a" stroke-width="1.15"/>
<line x1="39.95" y1="388.50" x2="119.20" y2="388.50" stroke="#1a1a1a" stroke-width="1.15"/>
<line x1="170.95" y1="388.50" x2="250.10" y2="388.50" stroke="#1a1a1a" stroke-width="1.15"/>
<line x1="292.95" y1="388.50" x2="374.20" y2="388.50" stroke="#1a1a1a" stroke-width="1.15"/>
<line x1="39.95" y1="490.50" x2="118.80" y2="490.50" stroke="#1a1a1a" stroke-width="1.15"/>
<line x1="169.95" y1="490.50" x2="250.90" y2="490.50" stroke="#1a1a1a" stroke-width="1.15"/>
<line x1="292.95" y1="490.50" x2="372.10" y2="490.50" stroke="#1a1a1a" stroke-width="1.15"/>
<line x1="414.95" y1="514.50" x2="490.90" y2="514.50" stroke="#1a1a1a" stroke-width="1.15"/>
<line x1="39.95" y1="609.50" x2="113.80" y2="609.50" stroke="#1a1a1a" stroke-width="1.15"/>
<line x1="170.95" y1="609.50" x2="241.00" y2="609.50" stroke="#1a1a1a" stroke-width="1.15"/>
<line x1="39.95" y1="700.50" x2="114.20" y2="700.50" stroke="#1a1a1a" stroke-width="1.15"/>
<line x1="170.95" y1="699.50" x2="245.40" y2="699.50" stroke="#1a1a1a" stroke-width="1.15"/>
<line x1="292.95" y1="609.50" x2="369.00" y2="609.50" stroke="#1a1a1a" stroke-width="1.15"/>
<line x1="292.95" y1="699.50" x2="371.70" y2="699.50" stroke="#1a1a1a" stroke-width="1.15"/></svg>
</body></html>
